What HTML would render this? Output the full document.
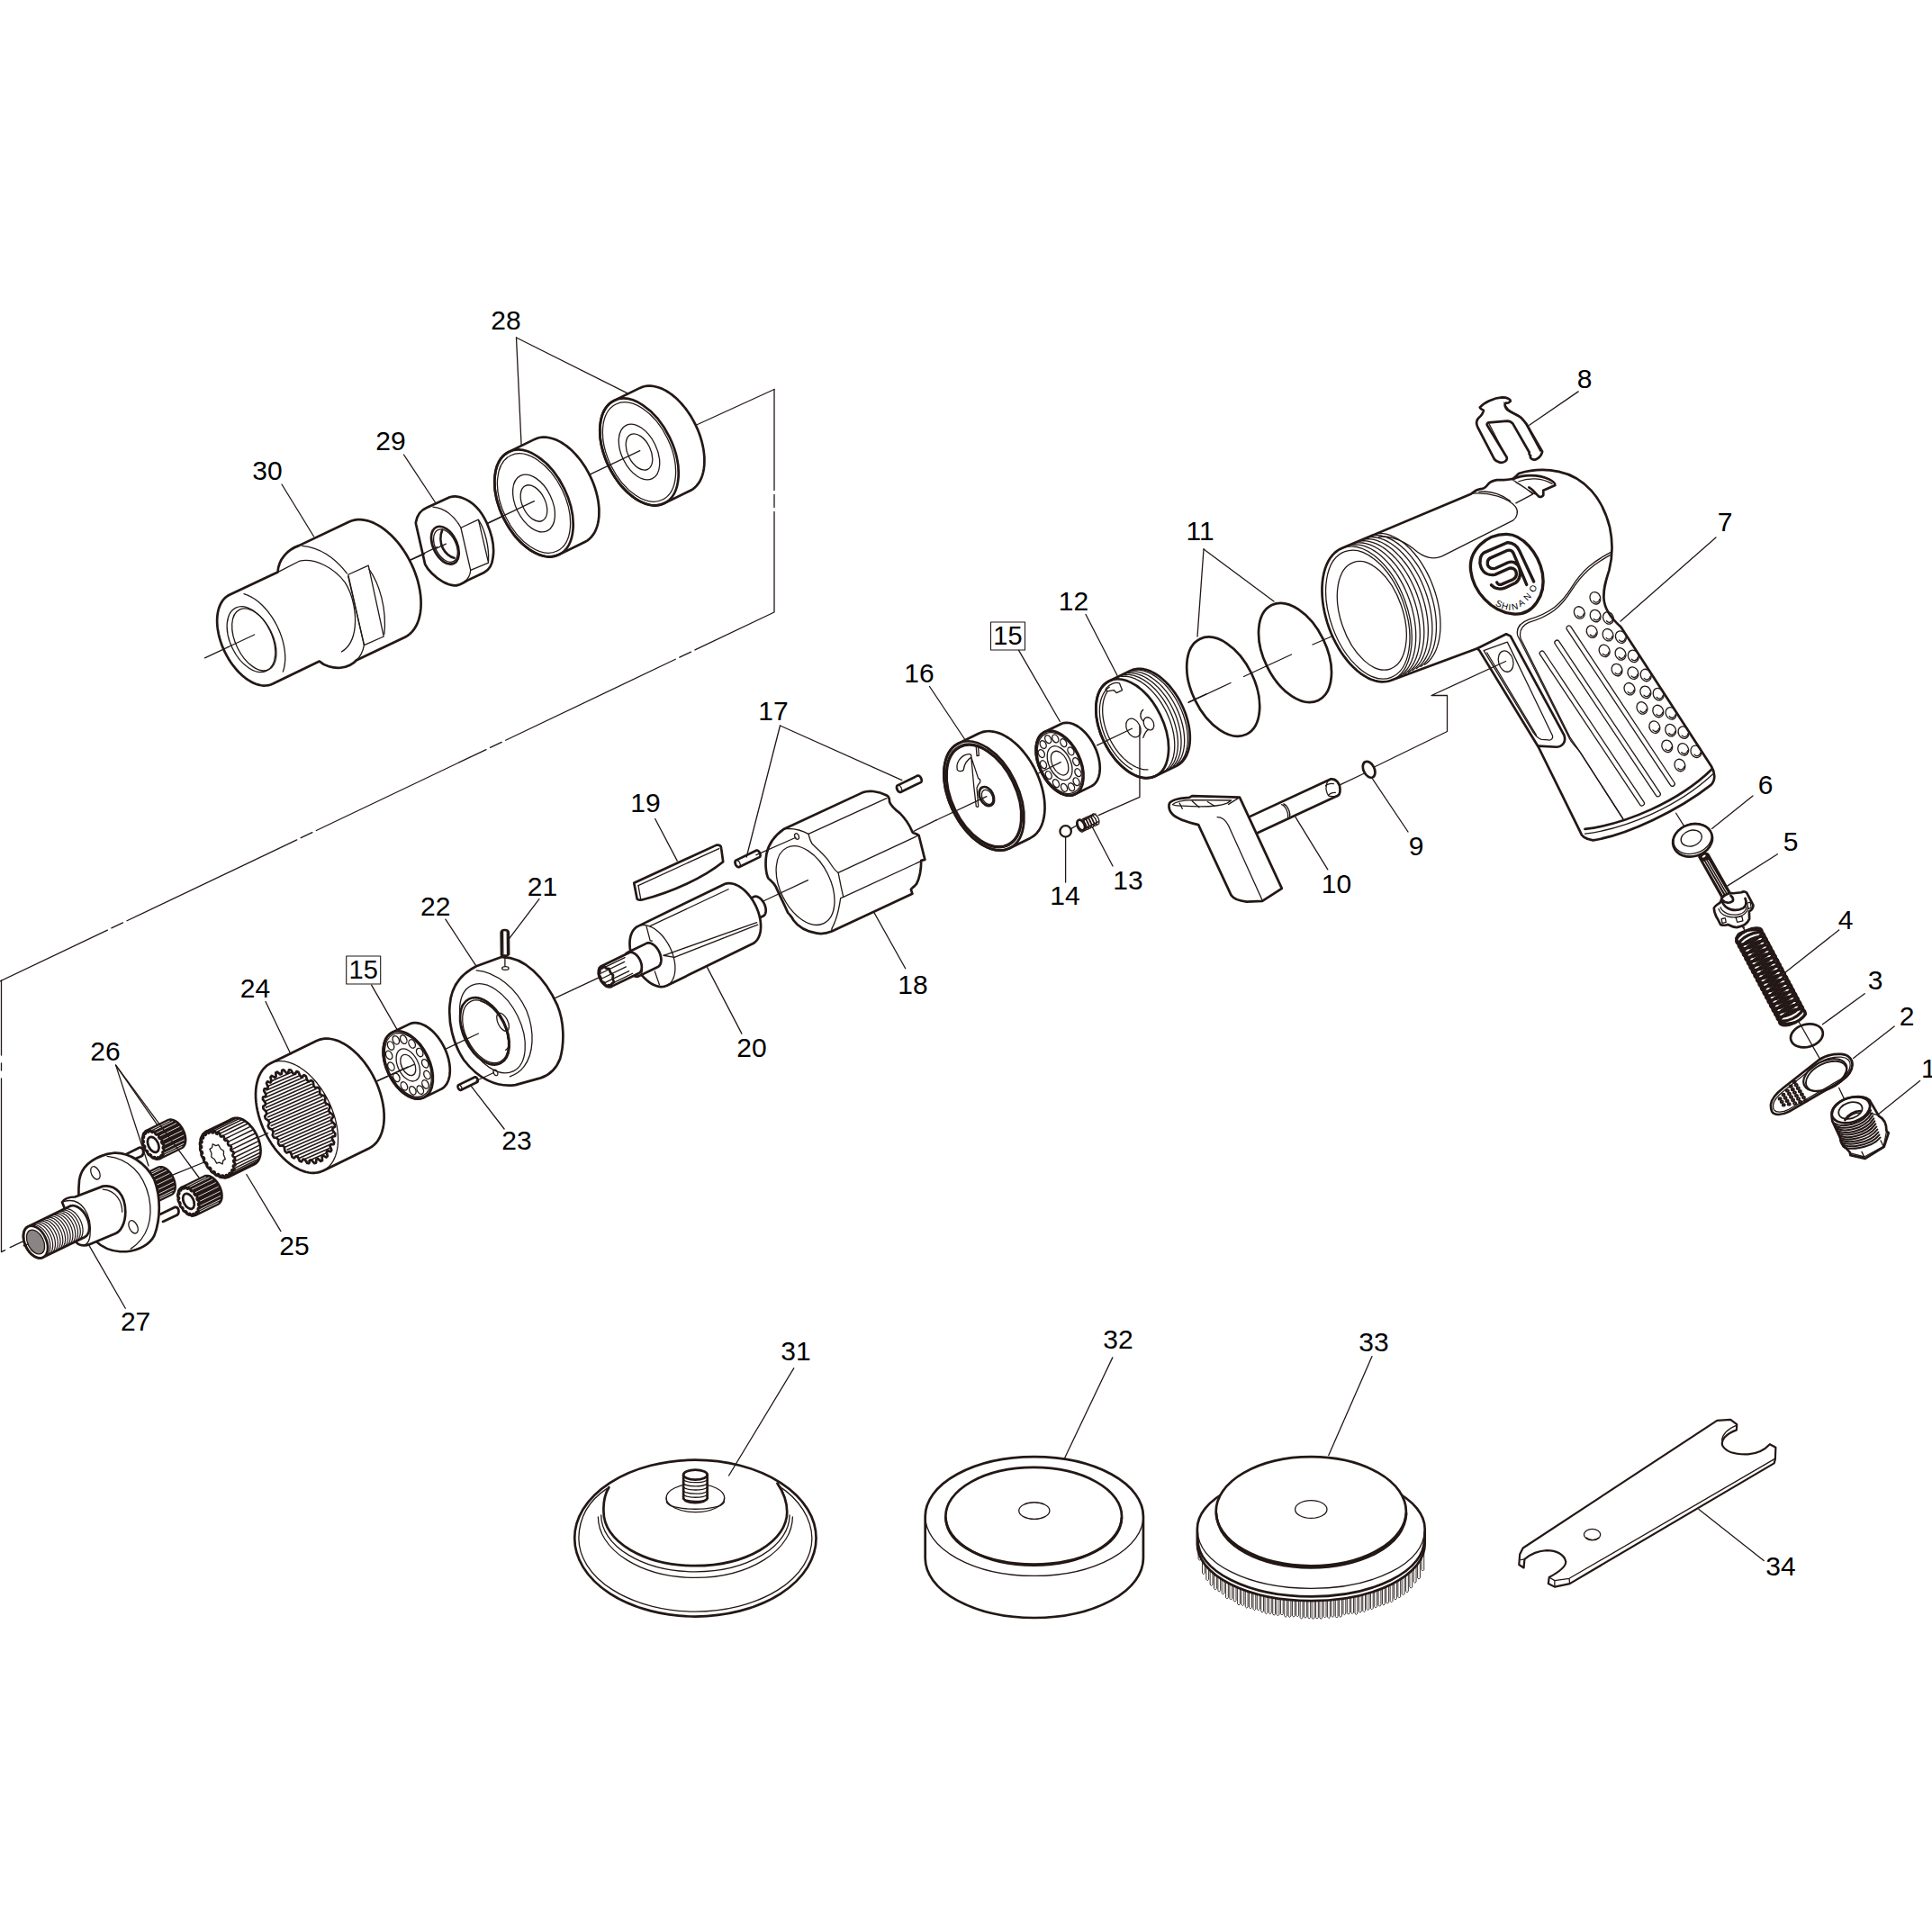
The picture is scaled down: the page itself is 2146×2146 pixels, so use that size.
<!DOCTYPE html>
<html><head><meta charset="utf-8"><style>
html,body{margin:0;padding:0;background:#fff;}
svg{display:block;}
svg text{font-family:"Liberation Sans",sans-serif;fill:#000;stroke:none;}
svg path,svg line,svg ellipse,svg rect,svg polyline,svg polygon,svg circle{vector-effect:non-scaling-stroke;}
</style></head><body>
<svg xmlns="http://www.w3.org/2000/svg" width="2146" height="2146" viewBox="0 0 2146 2146" stroke="#231815" stroke-linecap="round" stroke-linejoin="round">
<rect x="0" y="0" width="2146" height="2146" fill="#fff" stroke="none"/>
<g transform="translate(220 560) scale(0.136128)">
<path d="M 255.9,739.9 L 239.7,749.2 L 224.6,760.7 L 210.9,774.3 L 198.5,789.9 L 187.5,807.5 L 178.1,826.8 L 170.2,847.9 L 164.0,870.6 L 159.4,894.6 L 156.5,920.0 L 155.3,946.5 L 155.8,974.0 L 158.1,1002.2 L 162.0,1031.1 L 167.6,1060.4 L 174.8,1090.0 L 183.7,1119.7 L 194.0,1149.2 L 205.9,1178.5 L 219.1,1207.3 L 233.6,1235.5 L 249.4,1262.9 L 266.3,1289.2 L 284.3,1314.4 L 303.1,1338.3 L 322.8,1360.8 L 343.1,1381.7 L 364.0,1400.8 L 385.4,1418.2 L 407.0,1433.5 L 428.7,1446.9 L 450.5,1458.1 L 472.2,1467.1 L 493.7,1473.9 L 514.8,1478.4 L 535.3,1480.6 L 555.3,1480.4 L 574.5,1478.0 L 592.8,1473.2 L 610.1,1466.1 L 990,1282 C 1030,1320 1100,1340 1160,1335 C 1220,1330 1270,1300 1290,1275 L 1688.3,1085.1 L 1709.4,1073.0 L 1728.9,1058.1 L 1746.8,1040.5 L 1762.9,1020.2 L 1777.1,997.5 L 1789.4,972.3 L 1799.6,945.0 L 1807.7,915.7 L 1813.7,884.5 L 1817.5,851.6 L 1819.1,817.3 L 1818.4,781.7 L 1815.6,745.1 L 1810.5,707.7 L 1803.3,669.7 L 1794.0,631.4 L 1782.6,593.0 L 1769.2,554.7 L 1753.9,516.8 L 1736.7,479.5 L 1717.9,443.1 L 1697.4,407.7 L 1675.5,373.6 L 1652.3,340.9 L 1627.8,310.0 L 1602.4,280.9 L 1576.0,253.9 L 1548.9,229.1 L 1521.3,206.7 L 1493.3,186.8 L 1465.0,169.6 L 1436.8,155.1 L 1408.6,143.4 L 1380.8,134.7 L 1353.5,128.9 L 1326.8,126.1 L 1300.9,126.3 L 1276.0,129.5 L 1252.2,135.8 L 1229.7,144.9 L 826,337 C 730,370 655,450 650,555 Z" stroke-width="2.7" fill="#fff" />
<path d="M 650,555 L 830,463 C 960,440 1110,520 1200,640 C 1270,750 1290,900 1280,1000 C 1270,1100 1230,1170 1170,1205" stroke-width="1.3" fill="none" />
<path d="M 850,340 C 1000,355 1120,440 1215,565" stroke-width="1.3" fill="none" />
<path d="M 1225,575 L 1390,500 L 1515,1080 L 1355,1150 Z" stroke-width="1.3" fill="none" />
<path d="M 1225,590 L 1355,1150" stroke-width="1.3" fill="none" />
<path d="M 1395,530 C 1480,650 1540,850 1520,1060" stroke-width="1.3" fill="none" />
<path d="M 1355,1150 C 1345,1200 1320,1250 1290,1275" stroke-width="1.3" fill="none" />
<path d="M 374.7,732.7 L 389.3,737.3 L 404.1,742.9 L 418.9,749.6 L 433.8,757.2 L 448.7,765.9 L 463.5,775.5 L 478.3,786.1 L 492.9,797.5 L 507.4,809.9 L 521.6,823.1 L 535.6,837.1 L 549.3,851.9 L 562.6,867.4 L 575.6,883.5 L 588.2,900.3 L 600.3,917.7 L 611.9,935.6 L 623.0,954.0 L 633.6,972.8 L 643.6,992.0 L 653.0,1011.5 L 661.8,1031.3 L 669.9,1051.3 L 677.3,1071.4 L 684.1,1091.7 L 690.1,1111.9 L 695.3,1132.2 L 699.8,1152.3 L 703.6,1172.3 L 706.5,1192.1 L 708.7,1211.7 L 710.1,1230.9 L 710.7,1249.8 L 710.5,1268.2 L 709.5,1286.2 L 707.7,1303.6 L 705.1,1320.5 L 701.7,1336.8 L 697.6,1352.3 L 692.6,1367.2" stroke-width="1.3" fill="none" />
<ellipse cx="433.0" cy="1103.0" rx="169.0" ry="286.0" transform="rotate(-26 433.0 1103.0)" stroke-width="1.3" fill="none" />
<ellipse cx="458.0" cy="1105.0" rx="152.0" ry="272.0" transform="rotate(-26 458.0 1105.0)" stroke-width="1.3" fill="none" />
<path d="M 55,1255 L 460,1065" stroke-width="1.3" fill="none" />
</g>
<g transform="translate(420 520) scale(0.082816)">
<path d="M 505,730 C 520,640 570,565 650,532 L 960,390 C 1010,375 1070,378 1120,395 C 1250,440 1380,560 1460,740 C 1530,900 1560,1080 1540,1200 C 1530,1300 1480,1370 1420,1400 L 1200,1505 C 1130,1550 1080,1580 1020,1575 C 920,1565 800,1490 720,1410 C 680,1370 650,1330 630,1290 L 510,760 Z" stroke-width="2.7" fill="#fff" />
<path d="M 735,520 C 880,530 1020,630 1110,800 L 1240,1370 C 1235,1440 1200,1490 1160,1520" stroke-width="1.3" fill="none" />
<path d="M 1110,800 L 1345,690 L 1480,1270 L 1240,1370" stroke-width="1.3" fill="none" />
<path d="M 1350,700 C 1430,820 1490,1050 1480,1250" stroke-width="1.3" fill="none" />
<ellipse cx="898.0" cy="1035.0" rx="159.0" ry="270.0" transform="rotate(-26 898.0 1035.0)" stroke-width="2.7" fill="none" />
<ellipse cx="905.0" cy="1040.0" rx="138.0" ry="235.0" transform="rotate(-26 905.0 1040.0)" stroke-width="1.3" fill="none" />
<path d="M 860,830 C 830,900 830,1000 870,1080 C 910,1150 960,1190 1020,1205" stroke-width="2.7" fill="none" />
<path d="M 420,1240 L 625,1150" stroke-width="1.3" fill="none" />
<path d="M 760,1085 L 910,1015" stroke-width="1.3" fill="none" />
<path d="M 1460,745 L 1932,520" stroke-width="1.3" fill="none" />
</g>
<path d="M 565.2,501.9 L 562.6,503.4 L 560.2,505.2 L 558.1,507.3 L 556.1,509.8 L 554.4,512.6 L 552.9,515.6 L 551.7,518.9 L 550.7,522.5 L 550.0,526.3 L 549.5,530.3 L 549.3,534.4 L 549.4,538.7 L 549.7,543.2 L 550.4,547.7 L 551.2,552.3 L 552.4,557.0 L 553.8,561.6 L 555.4,566.3 L 557.2,570.9 L 559.3,575.4 L 561.6,579.9 L 564.1,584.1 L 566.8,588.3 L 569.6,592.3 L 572.5,596.0 L 575.6,599.5 L 578.8,602.8 L 582.1,605.8 L 585.5,608.6 L 588.9,611.0 L 592.3,613.1 L 595.7,614.8 L 599.1,616.2 L 602.5,617.3 L 605.8,618.0 L 609.1,618.4 L 612.2,618.3 L 615.2,617.9 L 618.1,617.2 L 620.8,616.1 L 649.6,602.0 L 652.2,600.6 L 654.5,598.8 L 656.7,596.6 L 658.6,594.2 L 660.4,591.4 L 661.9,588.4 L 663.1,585.1 L 664.1,581.5 L 664.8,577.7 L 665.3,573.7 L 665.4,569.5 L 665.4,565.2 L 665.0,560.8 L 664.4,556.2 L 663.5,551.6 L 662.4,547.0 L 661.0,542.3 L 659.4,537.7 L 657.5,533.1 L 655.4,528.5 L 653.1,524.1 L 650.7,519.8 L 648.0,515.7 L 645.2,511.7 L 642.2,508.0 L 639.1,504.4 L 635.9,501.1 L 632.6,498.1 L 629.3,495.4 L 625.9,493.0 L 622.5,490.9 L 619.0,489.1 L 615.6,487.7 L 612.2,486.7 L 608.9,486.0 L 605.7,485.6 L 602.6,485.6 L 599.5,486.0 L 596.7,486.8 L 593.9,487.9 Z" stroke-width="2.7" fill="#fff" />
<ellipse cx="593.0" cy="559.0" rx="37.5" ry="63.5" transform="rotate(-26 593.0 559.0)" stroke-width="2.7" fill="none" />
<ellipse cx="593.0" cy="559.0" rx="34.8" ry="59.0" transform="rotate(-26 593.0 559.0)" stroke-width="1.3" fill="none" />
<ellipse cx="593.0" cy="559.0" rx="20.1" ry="34.0" transform="rotate(-26 593.0 559.0)" stroke-width="1.3" fill="none" />
<ellipse cx="593.0" cy="559.0" rx="12.7" ry="21.6" transform="rotate(-26 593.0 559.0)" stroke-width="1.3" fill="none" />
<path d="M 682.2,444.9 L 679.6,446.4 L 677.2,448.2 L 675.1,450.3 L 673.1,452.8 L 671.4,455.6 L 669.9,458.6 L 668.7,461.9 L 667.7,465.5 L 667.0,469.3 L 666.5,473.3 L 666.3,477.4 L 666.4,481.7 L 666.7,486.2 L 667.4,490.7 L 668.2,495.3 L 669.4,500.0 L 670.8,504.6 L 672.4,509.3 L 674.2,513.9 L 676.3,518.4 L 678.6,522.9 L 681.1,527.1 L 683.8,531.3 L 686.6,535.3 L 689.5,539.0 L 692.6,542.5 L 695.8,545.8 L 699.1,548.8 L 702.5,551.6 L 705.9,554.0 L 709.3,556.1 L 712.7,557.8 L 716.1,559.2 L 719.5,560.3 L 722.8,561.0 L 726.1,561.4 L 729.2,561.3 L 732.2,560.9 L 735.1,560.2 L 737.8,559.1 L 766.6,545.0 L 769.2,543.6 L 771.5,541.8 L 773.7,539.6 L 775.6,537.2 L 777.4,534.4 L 778.9,531.4 L 780.1,528.1 L 781.1,524.5 L 781.8,520.7 L 782.3,516.7 L 782.4,512.5 L 782.4,508.2 L 782.0,503.8 L 781.4,499.2 L 780.5,494.6 L 779.4,490.0 L 778.0,485.3 L 776.4,480.7 L 774.5,476.1 L 772.4,471.5 L 770.1,467.1 L 767.7,462.8 L 765.0,458.7 L 762.2,454.7 L 759.2,451.0 L 756.1,447.4 L 752.9,444.1 L 749.6,441.1 L 746.3,438.4 L 742.9,436.0 L 739.5,433.9 L 736.0,432.1 L 732.6,430.7 L 729.2,429.7 L 725.9,429.0 L 722.7,428.6 L 719.6,428.6 L 716.5,429.0 L 713.7,429.8 L 710.9,430.9 Z" stroke-width="2.7" fill="#fff" />
<ellipse cx="710.0" cy="502.0" rx="37.5" ry="63.5" transform="rotate(-26 710.0 502.0)" stroke-width="2.7" fill="none" />
<ellipse cx="710.0" cy="502.0" rx="34.8" ry="59.0" transform="rotate(-26 710.0 502.0)" stroke-width="1.3" fill="none" />
<ellipse cx="710.0" cy="502.0" rx="19.5" ry="33.0" transform="rotate(-26 710.0 502.0)" stroke-width="1.3" fill="none" />
<ellipse cx="710.0" cy="502.0" rx="12.7" ry="21.5" transform="rotate(-26 710.0 502.0)" stroke-width="1.3" fill="none" />
<line x1="455.5" y1="622.0" x2="485.4" y2="607.6" stroke-width="1.3" />
<line x1="540.9" y1="581.7" x2="593.4" y2="556.6" stroke-width="1.3" />
<line x1="655.5" y1="526.8" x2="710.8" y2="500.7" stroke-width="1.3" />
<line x1="772.5" y1="472.5" x2="860.0" y2="432.5" stroke-width="1.3" />
<path d="M 860,432.5 L 860,680 L 0,1090" stroke-width="1.3" fill="none" stroke-dasharray="209 5 14 5" stroke-dashoffset="97"/>
<text x="562.0" y="366.0" font-size="30" text-anchor="middle" >28</text>
<line x1="573.5" y1="375.0" x2="579.1" y2="494.5" stroke-width="1.3" />
<line x1="573.5" y1="375.0" x2="697.1" y2="436.8" stroke-width="1.3" />
<text x="434.0" y="500.0" font-size="30" text-anchor="middle" >29</text>
<line x1="448.5" y1="505.0" x2="483.8" y2="558.5" stroke-width="1.3" />
<text x="297.0" y="533.0" font-size="30" text-anchor="middle" >30</text>
<line x1="313.0" y1="538.0" x2="348.6" y2="596.0" stroke-width="1.3" />
<g transform="translate(650 850) scale(0.207039)">
<path d="M 262,632 L 705,428 Q 728,425 730,445 L 740,518 C 640,600 470,680 305,722 Q 280,725 278,715 Z" stroke-width="2.7" fill="#fff" />
<path d="M 285,645 L 718,447" stroke-width="1.3" fill="none" />
<path d="M 285,645 L 298,718" stroke-width="1.3" fill="none" />
<path d="M 809.2,510.0 L 808.4,510.5 L 807.7,511.1 L 807.0,511.7 L 806.3,512.5 L 805.8,513.4 L 805.3,514.4 L 804.9,515.4 L 804.6,516.5 L 804.3,517.7 L 804.2,519.0 L 804.1,520.3 L 804.1,521.7 L 804.2,523.1 L 804.4,524.5 L 804.7,526.0 L 805.0,527.4 L 805.5,528.9 L 806.0,530.4 L 806.6,531.8 L 807.2,533.3 L 807.9,534.7 L 808.7,536.0 L 809.6,537.3 L 810.5,538.6 L 811.4,539.7 L 812.4,540.8 L 813.4,541.9 L 814.4,542.8 L 815.5,543.7 L 816.6,544.4 L 817.7,545.1 L 818.8,545.6 L 819.8,546.1 L 820.9,546.4 L 822.0,546.6 L 823.0,546.7 L 824.0,546.7 L 825.0,546.6 L 825.9,546.3 L 826.8,546.0 L 934.6,493.4 L 935.4,492.9 L 936.2,492.3 L 936.9,491.6 L 937.5,490.9 L 938.1,490.0 L 938.6,489.0 L 939.0,488.0 L 939.3,486.8 L 939.5,485.6 L 939.7,484.4 L 939.8,483.1 L 939.7,481.7 L 939.6,480.3 L 939.4,478.9 L 939.2,477.4 L 938.8,475.9 L 938.4,474.5 L 937.9,473.0 L 937.3,471.6 L 936.6,470.1 L 935.9,468.7 L 935.1,467.4 L 934.3,466.1 L 933.4,464.8 L 932.5,463.7 L 931.5,462.5 L 930.5,461.5 L 929.4,460.6 L 928.4,459.7 L 927.3,459.0 L 926.2,458.3 L 925.1,457.8 L 924.0,457.3 L 922.9,457.0 L 921.9,456.8 L 920.8,456.7 L 919.8,456.7 L 918.9,456.8 L 918.0,457.1 L 917.1,457.4 Z" stroke-width="2.7" fill="#fff" />
<ellipse cx="818.0" cy="528.0" rx="12.0" ry="20.0" transform="rotate(-26 818.0 528.0)" stroke-width="1.3" fill="none" />
<path d="M 1676.2,108.0 L 1675.4,108.5 L 1674.7,109.1 L 1674.0,109.7 L 1673.3,110.5 L 1672.8,111.4 L 1672.3,112.4 L 1671.9,113.4 L 1671.6,114.5 L 1671.3,115.7 L 1671.2,117.0 L 1671.1,118.3 L 1671.1,119.7 L 1671.2,121.1 L 1671.4,122.5 L 1671.7,124.0 L 1672.0,125.4 L 1672.5,126.9 L 1673.0,128.4 L 1673.6,129.8 L 1674.2,131.3 L 1674.9,132.7 L 1675.7,134.0 L 1676.6,135.3 L 1677.5,136.6 L 1678.4,137.7 L 1679.4,138.8 L 1680.4,139.9 L 1681.4,140.8 L 1682.5,141.7 L 1683.6,142.4 L 1684.7,143.1 L 1685.8,143.6 L 1686.8,144.1 L 1687.9,144.4 L 1689.0,144.6 L 1690.0,144.7 L 1691.0,144.7 L 1692.0,144.6 L 1692.9,144.3 L 1693.8,144.0 L 1799.8,92.2 L 1800.6,91.8 L 1801.4,91.2 L 1802.1,90.5 L 1802.7,89.7 L 1803.3,88.9 L 1803.8,87.9 L 1804.2,86.9 L 1804.5,85.7 L 1804.7,84.5 L 1804.9,83.3 L 1805.0,81.9 L 1804.9,80.6 L 1804.8,79.2 L 1804.6,77.7 L 1804.4,76.3 L 1804.0,74.8 L 1803.6,73.4 L 1803.1,71.9 L 1802.5,70.4 L 1801.8,69.0 L 1801.1,67.6 L 1800.3,66.3 L 1799.5,65.0 L 1798.6,63.7 L 1797.7,62.5 L 1796.7,61.4 L 1795.7,60.4 L 1794.6,59.5 L 1793.6,58.6 L 1792.5,57.8 L 1791.4,57.2 L 1790.3,56.6 L 1789.2,56.2 L 1788.1,55.9 L 1787.1,55.7 L 1786.1,55.6 L 1785.1,55.6 L 1784.1,55.7 L 1783.2,55.9 L 1782.3,56.3 Z" stroke-width="2.7" fill="#fff" />
<ellipse cx="1685.0" cy="126.0" rx="12.0" ry="20.0" transform="rotate(-26 1685.0 126.0)" stroke-width="1.3" fill="none" />
</g>
<g transform="translate(840 870) scale(0.103520)">
<path d="M 300,490 L 1140,100 C 1200,75 1300,80 1400,130 C 1420,140 1430,160 1430,200 C 1450,250 1500,290 1540,320 C 1600,380 1640,440 1670,510 L 1680,530 C 1700,540 1730,545 1745,560 L 1810,820 L 1770,830 C 1770,900 1760,1000 1720,1080 C 1700,1110 1670,1120 1660,1140 L 1675,1185 L 810,1590 C 760,1610 700,1620 650,1610 C 540,1590 450,1540 400,1470 C 380,1430 360,1410 340,1390 C 300,1300 250,1200 210,1110 C 190,1070 160,1050 130,1020 C 100,960 95,850 110,760 C 130,660 200,560 300,490 Z" stroke-width="2.7" fill="#fff" />
<path d="M 300,490 C 400,480 500,510 560,545 C 570,580 575,610 600,650 C 650,700 700,740 760,810 C 800,860 830,930 880,960 C 895,1030 910,1120 935,1220 L 905,1232 C 890,1330 870,1440 830,1520 C 815,1545 805,1570 810,1590" stroke-width="1.3" fill="none" />
<ellipse cx="527.0" cy="1097.0" rx="270.0" ry="452.0" transform="rotate(-26 527.0 1097.0)" stroke-width="1.3" fill="none" />
<ellipse cx="435" cy="570" rx="22" ry="33" transform="rotate(-20 435 570)" stroke-width="1.3" fill="none"/>
<path d="M 560,545 L 1400,160" stroke-width="1.3" fill="none" />
<path d="M 880,960 L 1730,565" stroke-width="1.3" fill="none" />
<path d="M 935,1220 L 1770,835" stroke-width="1.3" fill="none" />
<path d="M 65,1270 L 555,1040" stroke-width="1.3" fill="none" />
<path d="M 0,770 L 425,582" stroke-width="1.3" fill="none" />
<path d="M 1690,515 L 1932,395" stroke-width="1.3" fill="none" />
</g>
<g transform="translate(660 980) scale(0.103520)">
<path d="M 1649.6,186.6 L 1644.9,189.3 L 1640.6,192.6 L 1636.7,196.5 L 1633.2,200.9 L 1630.0,205.9 L 1627.3,211.4 L 1625.1,217.4 L 1623.3,223.9 L 1622.0,230.8 L 1621.1,238.0 L 1620.8,245.5 L 1620.9,253.4 L 1621.5,261.4 L 1622.7,269.6 L 1624.2,278.0 L 1626.3,286.4 L 1628.8,294.9 L 1631.7,303.3 L 1635.1,311.6 L 1638.9,319.8 L 1643.0,327.8 L 1647.5,335.6 L 1652.3,343.1 L 1657.5,350.3 L 1662.8,357.1 L 1668.4,363.5 L 1674.2,369.4 L 1680.2,374.9 L 1686.3,379.8 L 1692.4,384.2 L 1698.6,388.0 L 1704.9,391.1 L 1711.0,393.7 L 1717.2,395.6 L 1723.2,396.9 L 1729.1,397.5 L 1734.8,397.5 L 1740.2,396.8 L 1745.5,395.4 L 1750.4,393.4 L 1813.3,362.7 L 1818.0,360.0 L 1822.3,356.7 L 1826.2,352.9 L 1829.7,348.4 L 1832.9,343.4 L 1835.6,337.9 L 1837.8,331.9 L 1839.6,325.4 L 1840.9,318.6 L 1841.8,311.3 L 1842.1,303.8 L 1842.0,296.0 L 1841.4,287.9 L 1840.3,279.7 L 1838.7,271.3 L 1836.6,262.9 L 1834.1,254.5 L 1831.2,246.0 L 1827.8,237.7 L 1824.0,229.5 L 1819.9,221.5 L 1815.4,213.7 L 1810.6,206.2 L 1805.5,199.0 L 1800.1,192.2 L 1794.5,185.8 L 1788.7,179.9 L 1782.7,174.4 L 1776.6,169.5 L 1770.5,165.1 L 1764.3,161.4 L 1758.1,158.2 L 1751.9,155.6 L 1745.7,153.7 L 1739.7,152.4 L 1733.9,151.8 L 1728.2,151.8 L 1722.7,152.6 L 1717.5,153.9 L 1712.5,156.0 Z" stroke-width="2.7" fill="#fff" />
<path d="M 469.8,471.8 L 455.6,480.0 L 442.3,490.1 L 430.3,502.0 L 419.4,515.7 L 409.7,531.1 L 401.4,548.1 L 394.5,566.6 L 389.0,586.4 L 385.0,607.6 L 382.4,629.8 L 381.4,653.0 L 381.8,677.1 L 383.8,701.9 L 387.2,727.2 L 392.1,752.9 L 398.4,778.8 L 406.1,804.8 L 415.2,830.7 L 425.6,856.4 L 437.2,881.6 L 449.9,906.3 L 463.7,930.3 L 478.6,953.4 L 494.3,975.5 L 510.8,996.4 L 528.1,1016.1 L 545.9,1034.4 L 564.2,1051.1 L 582.9,1066.3 L 601.9,1079.8 L 621.0,1091.4 L 640.1,1101.3 L 659.2,1109.2 L 678.0,1115.1 L 696.5,1119.0 L 714.5,1120.9 L 732.0,1120.8 L 748.9,1118.6 L 765.0,1114.4 L 780.2,1108.2 L 1699.6,659.7 L 1713.9,651.6 L 1727.1,641.5 L 1739.2,629.5 L 1750.1,615.8 L 1759.7,600.4 L 1768.0,583.4 L 1774.9,565.0 L 1780.4,545.1 L 1784.5,524.0 L 1787.0,501.7 L 1788.1,478.5 L 1787.7,454.4 L 1785.7,429.7 L 1782.3,404.4 L 1777.4,378.7 L 1771.1,352.7 L 1763.4,326.7 L 1754.3,300.8 L 1743.9,275.2 L 1732.3,249.9 L 1719.6,225.2 L 1705.7,201.3 L 1690.9,178.2 L 1675.2,156.1 L 1658.6,135.1 L 1641.4,115.5 L 1623.5,97.2 L 1605.2,80.4 L 1586.5,65.2 L 1567.6,51.8 L 1548.5,40.1 L 1529.3,30.3 L 1510.3,22.4 L 1491.5,16.5 L 1473.0,12.5 L 1454.9,10.6 L 1437.4,10.8 L 1420.6,13.0 L 1404.5,17.2 L 1389.3,23.4 Z" stroke-width="2.7" fill="#fff" />
<path d="M 796.0,1099.0 L 808.4,1089.3 L 819.7,1078.0 L 830.1,1065.1 L 839.3,1050.7 L 847.3,1034.8 L 854.1,1017.6 L 859.6,999.2 L 863.8,979.6 L 866.7,959.0 L 868.3,937.4 L 868.6,915.0 L 867.5,892.0 L 865.1,868.3 L 861.4,844.3 L 856.3,819.9 L 850.0,795.4 L 842.5,770.9 L 833.7,746.4 L 823.8,722.2 L 812.8,698.4 L 800.8,675.1 L 787.8,652.4 L 774.0,630.4 L 759.3,609.4 L 743.8,589.3 L 727.7,570.3 L 711.1,552.6 L 694.0,536.1 L 676.4,521.1 L 658.7,507.5 L 640.7,495.5 L 622.6,485.1 L 604.6,476.4 L 586.6,469.4 L 568.9,464.1 L 551.5,460.7 L 534.5,459.0 L 518.0,459.2 L 502.0,461.2 L 486.8,465.1" stroke-width="1.3" fill="none" />
<path d="M 600,470 L 1440,75" stroke-width="1.3" fill="none" />
<path d="M 745,785 L 1745,432" stroke-width="1.3" fill="none" />
<path d="M 860,805 L 1755,455" stroke-width="1.3" fill="none" />
<path d="M 560,470 L 600,625 L 620,630" stroke-width="1.3" fill="none" />
<path d="M 745,785 L 860,805" stroke-width="1.3" fill="none" />
<path d="M 650,955 L 700,1100" stroke-width="1.3" fill="none" />
<path d="M 358.6,754.2 L 353.0,757.4 L 347.7,761.4 L 342.9,766.1 L 338.6,771.6 L 334.8,777.7 L 331.4,784.4 L 328.7,791.7 L 326.5,799.6 L 324.9,807.9 L 323.9,816.8 L 323.4,825.9 L 323.6,835.5 L 324.3,845.3 L 325.7,855.3 L 327.6,865.5 L 330.1,875.7 L 333.1,886.0 L 336.7,896.3 L 340.8,906.4 L 345.4,916.4 L 350.4,926.1 L 355.9,935.6 L 361.8,944.8 L 368.0,953.5 L 374.6,961.8 L 381.4,969.5 L 388.5,976.8 L 395.7,983.4 L 403.1,989.4 L 410.6,994.7 L 418.2,999.3 L 425.8,1003.2 L 433.3,1006.3 L 440.8,1008.6 L 448.2,1010.2 L 455.3,1010.9 L 462.3,1010.8 L 468.9,1010.0 L 475.3,1008.3 L 481.4,1005.8 L 683.6,907.2 L 689.3,904.0 L 694.5,900.0 L 699.3,895.2 L 703.6,889.8 L 707.5,883.7 L 710.8,877.0 L 713.5,869.6 L 715.7,861.8 L 717.3,853.4 L 718.4,844.6 L 718.8,835.4 L 718.7,825.9 L 717.9,816.1 L 716.6,806.1 L 714.6,795.9 L 712.1,785.6 L 709.1,775.4 L 705.5,765.1 L 701.4,755.0 L 696.8,745.0 L 691.8,735.2 L 686.3,725.7 L 680.4,716.6 L 674.2,707.9 L 667.7,699.6 L 660.8,691.8 L 653.8,684.6 L 646.5,678.0 L 639.1,672.0 L 631.6,666.7 L 624.0,662.1 L 616.4,658.2 L 608.9,655.1 L 601.4,652.7 L 594.1,651.2 L 586.9,650.5 L 580.0,650.5 L 573.3,651.4 L 566.9,653.1 L 560.9,655.5 Z" stroke-width="2.7" fill="#fff" />
<ellipse cx="420.0" cy="880.0" rx="83.0" ry="140.0" transform="rotate(-26 420.0 880.0)" stroke-width="1.3" fill="none" />
<path d="M 76.5,900.3 L 71.6,903.2 L 67.1,906.6 L 62.9,910.7 L 59.1,915.5 L 55.8,920.8 L 53.0,926.6 L 50.6,933.0 L 48.7,939.8 L 47.3,947.1 L 46.4,954.8 L 46.1,962.8 L 46.2,971.1 L 46.9,979.6 L 48.1,988.3 L 49.7,997.2 L 51.9,1006.1 L 54.6,1015.1 L 57.7,1024.0 L 61.3,1032.9 L 65.3,1041.6 L 69.7,1050.1 L 74.4,1058.3 L 79.6,1066.3 L 85.0,1073.9 L 90.7,1081.1 L 96.6,1087.9 L 102.8,1094.2 L 109.1,1100.0 L 115.5,1105.2 L 122.1,1109.9 L 128.6,1113.9 L 135.2,1117.3 L 141.8,1120.0 L 148.3,1122.0 L 154.6,1123.4 L 160.9,1124.0 L 166.9,1124.0 L 172.7,1123.2 L 178.2,1121.8 L 183.5,1119.7 L 480.1,975.0 L 485.0,972.2 L 489.5,968.7 L 493.7,964.6 L 497.5,959.9 L 500.8,954.6 L 503.6,948.7 L 506.0,942.3 L 507.9,935.5 L 509.3,928.2 L 510.2,920.6 L 510.5,912.6 L 510.4,904.3 L 509.7,895.7 L 508.5,887.0 L 506.9,878.1 L 504.7,869.2 L 502.0,860.2 L 498.9,851.3 L 495.3,842.5 L 491.3,833.8 L 486.9,825.3 L 482.2,817.0 L 477.0,809.0 L 471.6,801.4 L 465.9,794.2 L 460.0,787.4 L 453.8,781.1 L 447.5,775.4 L 441.1,770.1 L 434.5,765.5 L 428.0,761.5 L 421.4,758.1 L 414.8,755.4 L 408.3,753.3 L 402.0,752.0 L 395.7,751.3 L 389.7,751.3 L 383.9,752.1 L 378.4,753.5 L 373.1,755.7 Z" stroke-width="2.7" fill="#fff" />
<path d="M 183.5,1119.7 L 189.4,1085.6 L 212.6,1073.7 L 197.9,1032.5 L 203.0,998.0 L 174.6,968.9 L 159.3,927.8 L 130.5,924.5 L 101.9,896.2 L 86.1,920.1 L 57.6,917.8 L 62.3,957.8 L 47.2,982.5 L 70.1,1019.9 L 75.6,1060.1 L 106.0,1077.4 L 129.4,1114.3 L 153.1,1103.3 L 183.5,1119.7 Z" stroke-width="2.7" fill="#fff" />
<line x1="59.2" y1="938.7" x2="328.8" y2="807.2" stroke-width="1.3" />
<line x1="55.5" y1="985.3" x2="325.1" y2="853.7" stroke-width="1.3" />
<line x1="71.8" y1="1038.4" x2="341.4" y2="906.9" stroke-width="1.3" />
<line x1="103.6" y1="1083.9" x2="373.3" y2="952.4" stroke-width="1.3" />
<line x1="142.6" y1="1109.7" x2="412.2" y2="978.2" stroke-width="1.3" />
</g>
<g transform="translate(1040 720) scale(0.155280)">
<path d="M 158.2,681.2 L 141.4,690.8 L 125.9,702.7 L 111.6,716.7 L 98.8,732.9 L 87.5,751.0 L 77.7,771.0 L 69.6,792.8 L 63.1,816.2 L 58.4,841.0 L 55.4,867.2 L 54.1,894.6 L 54.7,923.0 L 56.9,952.1 L 61.0,981.9 L 66.7,1012.2 L 74.2,1042.8 L 83.3,1073.4 L 94.0,1103.9 L 106.2,1134.1 L 119.9,1163.9 L 134.9,1192.9 L 151.2,1221.2 L 168.7,1248.4 L 187.2,1274.4 L 206.7,1299.1 L 227.0,1322.3 L 248.0,1343.8 L 269.5,1363.6 L 291.6,1381.4 L 313.9,1397.3 L 336.4,1411.0 L 358.9,1422.6 L 381.3,1431.9 L 403.5,1438.9 L 425.3,1443.5 L 446.5,1445.8 L 467.1,1445.6 L 487.0,1443.1 L 505.9,1438.1 L 523.8,1430.8 L 672.1,1358.5 L 688.9,1348.8 L 704.4,1337.0 L 718.7,1322.9 L 731.5,1306.8 L 742.8,1288.7 L 752.6,1268.7 L 760.7,1246.9 L 767.2,1223.5 L 771.9,1198.6 L 774.9,1172.4 L 776.2,1145.1 L 775.6,1116.7 L 773.4,1087.5 L 769.3,1057.7 L 763.6,1027.5 L 756.1,996.9 L 747.0,966.3 L 736.3,935.8 L 724.1,905.6 L 710.4,875.8 L 695.4,846.7 L 679.1,818.5 L 661.6,791.3 L 643.1,765.3 L 623.6,740.6 L 603.3,717.4 L 582.3,695.9 L 560.8,676.1 L 538.7,658.2 L 516.4,642.4 L 493.9,628.6 L 471.4,617.1 L 449.0,607.7 L 426.8,600.8 L 405.0,596.1 L 383.8,593.9 L 363.2,594.0 L 343.3,596.6 L 324.4,601.6 L 306.5,608.9 Z" stroke-width="2.7" fill="#fff" />
<ellipse cx="341.0" cy="1056.0" rx="246.0" ry="417.0" transform="rotate(-26 341.0 1056.0)" stroke-width="2.7" fill="none" />
<ellipse cx="341.0" cy="1056.0" rx="235.0" ry="398.2" transform="rotate(-26 341.0 1056.0)" stroke-width="1.3" fill="none" />
<ellipse cx="341.0" cy="1056.0" rx="228.8" ry="387.8" transform="rotate(-26 341.0 1056.0)" stroke-width="2.7" fill="none" />
<path d="M 150,870 C 140,820 170,775 215,760 C 240,752 255,760 250,780 C 220,800 200,830 195,870 C 190,880 160,885 150,870 Z" stroke-width="1.3" fill="none" />
<path d="M 250,780 L 300,930 C 320,940 320,960 300,975 L 290,1000 L 300,1120 C 305,1135 295,1140 285,1130 L 270,1000 Z" stroke-width="1.3" fill="none" />
<path d="M 285,705 L 290,770 L 305,768 L 300,710" stroke-width="1.3" fill="none" />
<ellipse cx="360.0" cy="1060.0" rx="48.0" ry="72.0" transform="rotate(-26 360.0 1060.0)" stroke-width="2.7" fill="none" />
<ellipse cx="365.0" cy="1065.0" rx="36.0" ry="55.0" transform="rotate(-26 365.0 1065.0)" stroke-width="1.3" fill="none" />
<path d="M 774.3,599.1 L 764.3,604.8 L 755.0,611.9 L 746.6,620.2 L 739.0,629.8 L 732.2,640.6 L 726.4,652.5 L 721.6,665.5 L 717.7,679.4 L 714.9,694.2 L 713.1,709.7 L 712.4,726.0 L 712.7,742.9 L 714.1,760.2 L 716.5,778.0 L 719.9,796.0 L 724.3,814.1 L 729.7,832.3 L 736.1,850.5 L 743.4,868.5 L 751.5,886.1 L 760.4,903.4 L 770.1,920.2 L 780.5,936.4 L 791.5,951.9 L 803.1,966.6 L 815.2,980.3 L 827.7,993.2 L 840.5,1004.9 L 853.6,1015.5 L 866.9,1025.0 L 880.3,1033.2 L 893.7,1040.0 L 907.0,1045.6 L 920.2,1049.7 L 933.1,1052.5 L 945.8,1053.8 L 958.0,1053.7 L 969.8,1052.2 L 981.1,1049.2 L 991.7,1044.9 L 1108.6,987.9 L 1118.5,982.2 L 1127.8,975.1 L 1136.3,966.8 L 1143.9,957.2 L 1150.6,946.4 L 1156.4,934.5 L 1161.3,921.6 L 1165.1,907.6 L 1167.9,892.8 L 1169.7,877.3 L 1170.5,861.0 L 1170.1,844.1 L 1168.8,826.8 L 1166.4,809.1 L 1162.9,791.1 L 1158.5,772.9 L 1153.1,754.7 L 1146.7,736.5 L 1139.5,718.6 L 1131.4,700.9 L 1122.4,683.6 L 1112.7,666.8 L 1102.3,650.6 L 1091.3,635.1 L 1079.7,620.5 L 1067.7,606.7 L 1055.2,593.9 L 1042.3,582.1 L 1029.2,571.5 L 1016.0,562.0 L 1002.6,553.9 L 989.2,547.0 L 975.9,541.4 L 962.7,537.3 L 949.7,534.5 L 937.1,533.2 L 924.8,533.3 L 913.0,534.8 L 901.8,537.8 L 891.1,542.1 Z" stroke-width="2.7" fill="#fff" />
<ellipse cx="883.0" cy="822.0" rx="146.3" ry="248.0" transform="rotate(-26 883.0 822.0)" stroke-width="2.7" fill="none" />
<ellipse cx="883.0" cy="822.0" rx="137.5" ry="233.1" transform="rotate(-26 883.0 822.0)" stroke-width="1.3" fill="none" />
<ellipse cx="883.0" cy="822.0" rx="77.0" ry="130.0" transform="rotate(-26 883.0 822.0)" stroke-width="1.3" fill="none" />
<ellipse cx="883.0" cy="822.0" rx="54.0" ry="92.0" transform="rotate(-26 883.0 822.0)" stroke-width="1.3" fill="none" />
<ellipse cx="966.3" cy="992.8" rx="21.0" ry="30.0" transform="rotate(-26 966.3 992.8)" stroke-width="1.3" fill="none" />
<ellipse cx="1001.7" cy="954.6" rx="21.0" ry="30.0" transform="rotate(-26 1001.7 954.6)" stroke-width="1.3" fill="none" />
<ellipse cx="1013.6" cy="890.1" rx="21.0" ry="30.0" transform="rotate(-26 1013.6 890.1)" stroke-width="1.3" fill="none" />
<ellipse cx="999.7" cy="812.1" rx="21.0" ry="30.0" transform="rotate(-26 999.7 812.1)" stroke-width="1.3" fill="none" />
<ellipse cx="962.6" cy="736.1" rx="21.0" ry="30.0" transform="rotate(-26 962.6 736.1)" stroke-width="1.3" fill="none" />
<ellipse cx="909.8" cy="677.1" rx="21.0" ry="30.0" transform="rotate(-26 909.8 677.1)" stroke-width="1.3" fill="none" />
<ellipse cx="851.6" cy="646.8" rx="21.0" ry="30.0" transform="rotate(-26 851.6 646.8)" stroke-width="1.3" fill="none" />
<ellipse cx="799.7" cy="651.2" rx="21.0" ry="30.0" transform="rotate(-26 799.7 651.2)" stroke-width="1.3" fill="none" />
<ellipse cx="764.3" cy="689.4" rx="21.0" ry="30.0" transform="rotate(-26 764.3 689.4)" stroke-width="1.3" fill="none" />
<ellipse cx="752.4" cy="753.9" rx="21.0" ry="30.0" transform="rotate(-26 752.4 753.9)" stroke-width="1.3" fill="none" />
<ellipse cx="766.3" cy="831.9" rx="21.0" ry="30.0" transform="rotate(-26 766.3 831.9)" stroke-width="1.3" fill="none" />
<ellipse cx="803.4" cy="907.9" rx="21.0" ry="30.0" transform="rotate(-26 803.4 907.9)" stroke-width="1.3" fill="none" />
<ellipse cx="856.2" cy="966.9" rx="21.0" ry="30.0" transform="rotate(-26 856.2 966.9)" stroke-width="1.3" fill="none" />
<ellipse cx="914.4" cy="997.2" rx="21.0" ry="30.0" transform="rotate(-26 914.4 997.2)" stroke-width="1.3" fill="none" />
<path d="M 1236.3,235.3 L 1221.1,244.0 L 1207.0,254.7 L 1194.1,267.5 L 1182.5,282.1 L 1172.2,298.5 L 1163.4,316.7 L 1156.0,336.4 L 1150.1,357.6 L 1145.8,380.2 L 1143.1,403.9 L 1142.0,428.7 L 1142.4,454.4 L 1144.5,480.8 L 1148.2,507.9 L 1153.4,535.3 L 1160.2,563.0 L 1168.4,590.8 L 1178.1,618.4 L 1189.2,645.8 L 1201.6,672.8 L 1215.2,699.1 L 1229.9,724.7 L 1245.8,749.4 L 1262.6,773.0 L 1280.2,795.3 L 1298.6,816.4 L 1317.7,835.9 L 1337.2,853.8 L 1357.2,870.0 L 1377.4,884.4 L 1397.8,896.8 L 1418.2,907.3 L 1438.6,915.8 L 1458.6,922.1 L 1478.4,926.3 L 1497.7,928.3 L 1516.3,928.2 L 1534.3,925.9 L 1551.5,921.4 L 1567.7,914.7 L 1720.5,840.2 L 1735.7,831.5 L 1749.8,820.7 L 1762.7,808.0 L 1774.3,793.4 L 1784.6,776.9 L 1793.4,758.8 L 1800.8,739.1 L 1806.7,717.9 L 1811.0,695.3 L 1813.7,671.6 L 1814.8,646.8 L 1814.4,621.1 L 1812.3,594.6 L 1808.6,567.6 L 1803.4,540.2 L 1796.6,512.5 L 1788.4,484.7 L 1778.7,457.1 L 1767.6,429.7 L 1755.2,402.7 L 1741.6,376.4 L 1726.9,350.8 L 1711.0,326.1 L 1694.2,302.5 L 1676.6,280.1 L 1658.2,259.1 L 1639.1,239.6 L 1619.6,221.7 L 1599.6,205.5 L 1579.4,191.1 L 1559.0,178.6 L 1538.6,168.2 L 1518.2,159.7 L 1498.2,153.4 L 1478.4,149.2 L 1459.1,147.1 L 1440.5,147.3 L 1422.5,149.6 L 1405.3,154.1 L 1389.1,160.7 Z" stroke-width="2.7" fill="#fff" />
<path d="M 1648.9,866.0 L 1659.4,853.9 L 1668.9,840.5 L 1677.4,825.8 L 1684.9,809.7 L 1691.2,792.6 L 1696.3,774.3 L 1700.3,754.9 L 1703.2,734.7 L 1704.8,713.6 L 1705.2,691.8 L 1704.4,669.3 L 1702.4,646.3 L 1699.3,622.9 L 1694.9,599.2 L 1689.4,575.2 L 1682.8,551.2 L 1675.0,527.1 L 1666.2,503.2 L 1656.4,479.5 L 1645.6,456.2 L 1633.9,433.3 L 1621.2,411.0 L 1607.8,389.3 L 1593.6,368.4 L 1578.8,348.4 L 1563.3,329.3 L 1547.3,311.3 L 1530.8,294.3 L 1513.9,278.6 L 1496.6,264.2 L 1479.2,251.1 L 1461.6,239.4 L 1443.9,229.1 L 1426.2,220.4 L 1408.6,213.2 L 1391.2,207.6 L 1374.0,203.6 L 1357.1,201.2 L 1340.7,200.4 L 1324.7,201.3" stroke-width="1.3" fill="none" />
<path d="M 1672.3,854.6 L 1682.8,842.5 L 1692.3,829.1 L 1700.8,814.4 L 1708.2,798.3 L 1714.5,781.2 L 1719.7,762.9 L 1723.7,743.5 L 1726.5,723.3 L 1728.1,702.2 L 1728.6,680.4 L 1727.8,657.9 L 1725.8,634.9 L 1722.6,611.5 L 1718.3,587.8 L 1712.8,563.8 L 1706.1,539.8 L 1698.4,515.7 L 1689.6,491.8 L 1679.8,468.1 L 1669.0,444.8 L 1657.2,421.9 L 1644.6,399.6 L 1631.2,377.9 L 1617.0,357.0 L 1602.1,337.0 L 1586.7,317.9 L 1570.6,299.9 L 1554.1,282.9 L 1537.2,267.2 L 1520.0,252.8 L 1502.5,239.7 L 1484.9,228.0 L 1467.2,217.7 L 1449.6,209.0 L 1432.0,201.8 L 1414.5,196.2 L 1397.4,192.2 L 1380.5,189.8 L 1364.1,189.0 L 1348.1,189.9" stroke-width="1.3" fill="none" />
<path d="M 1695.6,843.2 L 1706.2,831.1 L 1715.7,817.7 L 1724.2,803.0 L 1731.6,787.0 L 1737.9,769.8 L 1743.1,751.5 L 1747.1,732.1 L 1749.9,711.9 L 1751.5,690.8 L 1751.9,669.0 L 1751.2,646.5 L 1749.2,623.5 L 1746.0,600.1 L 1741.7,576.4 L 1736.1,552.4 L 1729.5,528.4 L 1721.8,504.3 L 1713.0,480.4 L 1703.1,456.7 L 1692.3,433.4 L 1680.6,410.5 L 1668.0,388.2 L 1654.6,366.5 L 1640.4,345.6 L 1625.5,325.6 L 1610.0,306.5 L 1594.0,288.5 L 1577.5,271.5 L 1560.6,255.8 L 1543.4,241.4 L 1525.9,228.3 L 1508.3,216.6 L 1490.6,206.3 L 1472.9,197.6 L 1455.3,190.4 L 1437.9,184.8 L 1420.7,180.8 L 1403.9,178.4 L 1387.4,177.6 L 1371.5,178.5" stroke-width="1.3" fill="none" />
<path d="M 1719.0,831.8 L 1729.5,819.7 L 1739.1,806.3 L 1747.5,791.6 L 1755.0,775.6 L 1761.3,758.4 L 1766.4,740.1 L 1770.4,720.8 L 1773.3,700.5 L 1774.9,679.4 L 1775.3,657.6 L 1774.5,635.1 L 1772.5,612.1 L 1769.4,588.7 L 1765.0,565.0 L 1759.5,541.0 L 1752.9,517.0 L 1745.1,492.9 L 1736.3,469.0 L 1726.5,445.3 L 1715.7,422.0 L 1704.0,399.1 L 1691.4,376.8 L 1677.9,355.1 L 1663.8,334.2 L 1648.9,314.2 L 1633.4,295.1 L 1617.4,277.1 L 1600.9,260.1 L 1584.0,244.4 L 1566.7,230.0 L 1549.3,216.9 L 1531.7,205.2 L 1514.0,194.9 L 1496.3,186.2 L 1478.7,179.0 L 1461.3,173.4 L 1444.1,169.4 L 1427.2,167.0 L 1410.8,166.2 L 1394.8,167.1" stroke-width="1.3" fill="none" />
<path d="M 1742.4,820.4 L 1752.9,808.3 L 1762.4,794.9 L 1770.9,780.2 L 1778.3,764.2 L 1784.6,747.0 L 1789.8,728.7 L 1793.8,709.4 L 1796.6,689.1 L 1798.3,668.0 L 1798.7,646.2 L 1797.9,623.7 L 1795.9,600.7 L 1792.7,577.3 L 1788.4,553.6 L 1782.9,529.6 L 1776.2,505.6 L 1768.5,481.5 L 1759.7,457.6 L 1749.9,433.9 L 1739.1,410.6 L 1727.3,387.7 L 1714.7,365.4 L 1701.3,343.7 L 1687.1,322.8 L 1672.3,302.8 L 1656.8,283.7 L 1640.7,265.7 L 1624.2,248.7 L 1607.3,233.0 L 1590.1,218.6 L 1572.7,205.5 L 1555.0,193.8 L 1537.3,183.5 L 1519.7,174.8 L 1502.1,167.6 L 1484.6,162.0 L 1467.5,158.0 L 1450.6,155.6 L 1434.2,154.8 L 1418.2,155.7" stroke-width="1.3" fill="none" />
<ellipse cx="1402.0" cy="575.0" rx="223.0" ry="378.0" transform="rotate(-26 1402.0 575.0)" stroke-width="2.7" fill="none" />
<path d="M 1237.7,278.1 L 1228.2,285.3 L 1219.3,293.6 L 1211.0,302.8 L 1203.3,313.0 L 1196.4,324.0 L 1190.2,336.0 L 1184.7,348.8 L 1179.9,362.3 L 1176.0,376.6 L 1172.8,391.6 L 1170.4,407.2 L 1168.8,423.4 L 1168.0,440.2 L 1168.1,457.4 L 1168.9,475.0 L 1170.6,492.9 L 1173.0,511.2 L 1176.3,529.6 L 1180.3,548.3 L 1185.1,567.0 L 1190.7,585.7 L 1196.9,604.4 L 1203.9,623.0 L 1211.6,641.4 L 1220.0,659.6 L 1229.0,677.6 L 1238.5,695.1 L 1248.7,712.2 L 1259.4,728.9 L 1270.5,745.0 L 1282.2,760.6 L 1294.2,775.5 L 1306.6,789.7 L 1319.4,803.1 L 1332.4,815.8 L 1345.7,827.6 L 1359.2,838.6 L 1372.8,848.6 L 1386.5,857.7 L 1400.3,865.8" stroke-width="1.3" fill="none" />
<path d="M 1222.6,311.3 L 1215.4,323.4 L 1209.1,336.5 L 1203.6,350.4 L 1199.0,365.2 L 1195.2,380.8 L 1192.4,397.1 L 1190.4,414.0 L 1189.4,431.6 L 1189.3,449.6 L 1190.2,468.1 L 1191.9,487.0 L 1194.6,506.1 L 1198.1,525.5 L 1202.6,545.0 L 1207.9,564.5 L 1214.1,584.1 L 1221.1,603.5 L 1228.9,622.8 L 1237.4,641.8 L 1246.7,660.5 L 1256.7,678.8 L 1267.3,696.6 L 1278.6,713.9 L 1290.4,730.6 L 1302.7,746.5 L 1315.5,761.8 L 1328.7,776.2 L 1342.3,789.7 L 1356.2,802.4 L 1370.4,814.0 L 1384.7,824.7 L 1399.2,834.3 L 1413.8,842.8 L 1428.4,850.1 L 1442.9,856.3 L 1457.4,861.3 L 1471.7,865.1 L 1485.8,867.7 L 1499.7,869.1 L 1513.2,869.2" stroke-width="1.3" fill="none" />
<path d="M 1215,290 C 1230,260 1280,240 1310,250 L 1330,300 L 1290,320 L 1270,300 L 1240,305 C 1215,310 1205,300 1215,290 Z" stroke-width="1.3" fill="none" />
<ellipse cx="1410.0" cy="570.0" rx="48.0" ry="70.0" transform="rotate(-26 1410.0 570.0)" stroke-width="1.3" fill="none" />
<ellipse cx="1520.0" cy="540.0" rx="34.0" ry="48.0" transform="rotate(-26 1520.0 540.0)" stroke-width="1.3" fill="none" />
<path d="M 1480,440 C 1455,460 1455,500 1480,520" stroke-width="1.3" fill="none" />
<path d="M 1480,640 C 1490,610 1500,590 1520,580" stroke-width="1.3" fill="none" />
<path d="M 0,1230 L 360,1060" stroke-width="1.3" fill="none" />
<path d="M 730,895 L 890,815" stroke-width="1.3" fill="none" />
<path d="M 1150,695 L 1400,575" stroke-width="1.3" fill="none" />
<path d="M 1805,385 L 1932,328" stroke-width="1.3" fill="none" />
<path d="M 1455,560 L 1455,1065 L 1160,1195" stroke-width="1.3" fill="none" />
<ellipse cx="1030.0" cy="1275.0" rx="22.0" ry="42.0" transform="rotate(-26 1030.0 1275.0)" stroke-width="1.3" fill="none" />
<ellipse cx="1048.0" cy="1266.5" rx="22.0" ry="42.0" transform="rotate(-26 1048.0 1266.5)" stroke-width="1.3" fill="none" />
<ellipse cx="1066.0" cy="1258.0" rx="22.0" ry="42.0" transform="rotate(-26 1066.0 1258.0)" stroke-width="1.3" fill="none" />
<ellipse cx="1084.0" cy="1249.5" rx="22.0" ry="42.0" transform="rotate(-26 1084.0 1249.5)" stroke-width="1.3" fill="none" />
<ellipse cx="1102.0" cy="1241.0" rx="22.0" ry="42.0" transform="rotate(-26 1102.0 1241.0)" stroke-width="1.3" fill="none" />
<ellipse cx="1120.0" cy="1232.5" rx="22.0" ry="42.0" transform="rotate(-26 1120.0 1232.5)" stroke-width="1.3" fill="none" />
<ellipse cx="1138.0" cy="1224.0" rx="22.0" ry="42.0" transform="rotate(-26 1138.0 1224.0)" stroke-width="1.3" fill="none" />
<path d="M 1015,1250 L 1140,1185 M 1050,1295 L 1160,1240" stroke-width="1.3" fill="none" />
<ellipse cx="1035.0" cy="1265.0" rx="24.0" ry="40.0" transform="rotate(-26 1035.0 1265.0)" stroke-width="2.7" fill="#fff" />
<circle cx="925" cy="1310" r="40" fill="#fff" stroke-width="2.3"/>
<path d="M 965,1290 L 1015,1262" stroke-width="1.3" fill="none" />
</g>
<ellipse cx="1358.7" cy="762.7" rx="34.7" ry="58.9" transform="rotate(-26 1358.7 762.7)" stroke-width="2.7" fill="none" />
<ellipse cx="1438.5" cy="725.0" rx="34.7" ry="58.9" transform="rotate(-26 1438.5 725.0)" stroke-width="2.7" fill="none" />
<line x1="1320.0" y1="780.5" x2="1367.0" y2="758.5" stroke-width="1.3" />
<line x1="1381.5" y1="751.5" x2="1434.5" y2="727.0" stroke-width="1.3" />
<line x1="1458.0" y1="716.0" x2="1479.0" y2="707.0" stroke-width="1.3" />
<g transform="translate(1290 830) scale(0.155280)">
<path d="M 635,495 L 1210,228 C 1250,222 1278,260 1278,300 C 1280,330 1270,345 1255,350 L 690,612" stroke-width="2.7" fill="#fff" />
<path d="M 1210,228 C 1180,240 1165,300 1195,345 C 1200,352 1230,352 1255,350" stroke-width="1.3" fill="none" />
<path d="M 1175,275 C 1190,262 1220,258 1232,262 M 1195,345 C 1205,330 1230,322 1245,325" stroke-width="1.3" fill="none" />
<path d="M 860,410 C 890,420 910,470 905,500 M 875,405 C 905,420 925,470 918,495" stroke-width="1.3" fill="none" />
<path d="M 55,410 C 60,380 120,365 200,360 L 220,348 L 560,358 L 862,1010 L 722,1100 L 610,1105 C 560,1100 520,1090 500,1060 L 265,555 C 200,540 120,520 80,480 C 60,460 52,435 55,410 Z" stroke-width="2.7" fill="#fff" />
<path d="M 80,410 C 100,390 170,380 220,378 L 500,380 L 470,400 C 420,420 300,430 150,420 C 110,418 85,418 80,410 Z" stroke-width="1.3" fill="none" />
<path d="M 400,500 C 430,500 460,520 480,560 L 722,1095" stroke-width="1.3" fill="none" />
<path d="M 560,358 L 480,408" stroke-width="1.3" fill="none" />
<path d="M 130,400 L 150,440 M 220,385 L 270,430 M 330,390 L 380,420" stroke-width="1.3" fill="none" />
<path d="M 1280,268 L 1445,190" stroke-width="1.3" fill="none" />
</g>
<ellipse cx="1520.6" cy="854.8" rx="6.0" ry="9.5" transform="rotate(-26 1520.6 854.8)" stroke-width="2.7" fill="none" />
<text x="859.0" y="800.0" font-size="30" text-anchor="middle" >17</text>
<line x1="866.5" y1="806.0" x2="829.2" y2="952.0" stroke-width="1.3" />
<line x1="866.5" y1="806.0" x2="1001.9" y2="866.6" stroke-width="1.3" />
<text x="717.0" y="902.0" font-size="30" text-anchor="middle" >19</text>
<line x1="727.7" y1="909.5" x2="752.2" y2="956.1" stroke-width="1.3" />
<text x="1014.0" y="1104.0" font-size="30" text-anchor="middle" >18</text>
<line x1="970.9" y1="1013.6" x2="1005.7" y2="1075.7" stroke-width="1.3" />
<text x="835.0" y="1174.0" font-size="30" text-anchor="middle" >20</text>
<line x1="785.6" y1="1074.6" x2="823.9" y2="1148.1" stroke-width="1.3" />
<text x="1021.0" y="757.5" font-size="30" text-anchor="middle" >16</text>
<line x1="1032.5" y1="762.5" x2="1072.5" y2="822.5" stroke-width="1.3" />
<text x="1119.5" y="716.0" font-size="29" text-anchor="middle" >15</text>
<rect x="1100.5" y="691.0" width="38" height="31" fill="none" stroke-width="1.1"/>
<line x1="1131.6" y1="722.3" x2="1177.4" y2="801.5" stroke-width="1.3" />
<text x="1192.5" y="677.5" font-size="30" text-anchor="middle" >12</text>
<line x1="1206.0" y1="682.5" x2="1241.0" y2="750.3" stroke-width="1.3" />
<text x="1333.0" y="600.0" font-size="30" text-anchor="middle" >11</text>
<line x1="1337.0" y1="610.0" x2="1330.0" y2="707.0" stroke-width="1.3" />
<line x1="1337.0" y1="610.0" x2="1415.0" y2="668.0" stroke-width="1.3" />
<text x="1253.0" y="988.0" font-size="30" text-anchor="middle" >13</text>
<line x1="1213.5" y1="919.0" x2="1236.0" y2="962.0" stroke-width="1.3" />
<text x="1183.0" y="1005.0" font-size="30" text-anchor="middle" >14</text>
<line x1="1183.6" y1="929.6" x2="1183.6" y2="980.0" stroke-width="1.3" />
<text x="1484.5" y="992.0" font-size="30" text-anchor="middle" >10</text>
<line x1="1439.0" y1="907.6" x2="1474.8" y2="965.9" stroke-width="1.3" />
<text x="1573.0" y="949.6" font-size="30" text-anchor="middle" >9</text>
<line x1="1524.5" y1="865.0" x2="1564.0" y2="924.0" stroke-width="1.3" />
<g transform="translate(1460 500) scale(0.238095)">
<path d="M 132.5,455.8 L 119.0,461.8 L 106.2,469.7 L 94.3,479.4 L 83.4,490.8 L 73.4,504.0 L 64.5,518.7 L 56.8,535.0 L 50.1,552.7 L 44.7,571.7 L 40.5,591.9 L 37.6,613.1 L 35.9,635.3 L 35.6,658.3 L 36.5,681.9 L 38.7,706.1 L 42.2,730.6 L 47.0,755.4 L 52.9,780.1 L 60.1,804.8 L 68.3,829.3 L 77.7,853.4 L 88.1,876.9 L 99.5,899.7 L 111.8,921.7 L 124.8,942.7 L 138.7,962.6 L 153.2,981.4 L 168.2,998.7 L 183.7,1014.7 L 199.6,1029.1 L 215.8,1041.8 L 232.2,1052.9 L 248.6,1062.2 L 265.1,1069.7 L 281.4,1075.2 L 297.4,1078.9 L 313.2,1080.6 L 328.5,1080.4 L 343.3,1078.3 L 357.5,1074.2 L 760,925 L 770,935 L 1045,1385 L 1240,1780 C 1245,1800 1265,1815 1300,1820 C 1460,1795 1700,1680 1850,1562 C 1872,1540 1870,1505 1852,1475 L 1430,825 C 1390,790 1352,740 1350,690 C 1348,640 1360,610 1375,560 C 1388,510 1395,440 1378,360 C 1345,225 1260,125 1140,100 C 1080,88 1010,92 956,108 C 945,115 938,126 928,132 C 905,140 875,139 852,139 C 830,142 815,152 808,162 C 798,176 788,182 775,181 C 760,183 745,192 730,205 L 132.5,455.8 Z" stroke-width="2.7" fill="#fff" />
<path d="M 400.1,1053.4 L 411.1,1045.0 L 421.4,1035.2 L 430.9,1023.9 L 439.5,1011.2 L 447.3,997.2 L 454.0,982.0 L 459.9,965.7 L 464.7,948.2 L 468.5,929.8 L 471.2,910.5 L 472.9,890.4 L 473.5,869.6 L 473.1,848.3 L 471.5,826.5 L 468.9,804.3 L 465.3,781.8 L 460.6,759.3 L 455.0,736.7 L 448.3,714.2 L 440.7,691.9 L 432.2,670.0 L 422.9,648.5 L 412.7,627.5 L 401.8,607.2 L 390.1,587.7 L 377.9,569.1 L 365.0,551.4 L 351.6,534.7 L 337.8,519.2 L 323.6,504.9 L 309.1,491.8 L 294.3,480.2 L 279.4,469.9 L 264.5,461.1 L 249.5,453.8 L 234.6,448.1 L 219.8,444.0 L 205.3,441.4 L 191.1,440.5 L 177.2,441.1" stroke-width="1.3" fill="none" />
<path d="M 419.2,1044.6 L 430.2,1036.3 L 440.5,1026.4 L 450.0,1015.1 L 458.6,1002.4 L 466.3,988.5 L 473.1,973.3 L 478.9,956.9 L 483.8,939.5 L 487.5,921.0 L 490.3,901.7 L 492.0,881.6 L 492.6,860.9 L 492.1,839.5 L 490.6,817.7 L 488.0,795.5 L 484.4,773.0 L 479.7,750.5 L 474.0,727.9 L 467.4,705.4 L 459.8,683.1 L 451.3,661.2 L 441.9,639.7 L 431.8,618.8 L 420.8,598.5 L 409.2,578.9 L 396.9,560.3 L 384.1,542.6 L 370.7,525.9 L 356.8,510.4 L 342.6,496.1 L 328.1,483.1 L 313.4,471.4 L 298.5,461.1 L 283.5,452.3 L 268.5,445.1 L 253.6,439.3 L 238.9,435.2 L 224.4,432.6 L 210.1,431.7 L 196.3,432.3" stroke-width="1.3" fill="none" />
<path d="M 438.2,1035.9 L 449.3,1027.5 L 459.5,1017.6 L 469.0,1006.3 L 477.7,993.6 L 485.4,979.7 L 492.2,964.5 L 498.0,948.1 L 502.8,930.7 L 506.6,912.3 L 509.4,893.0 L 511.0,872.9 L 511.7,852.1 L 511.2,830.7 L 509.7,808.9 L 507.1,786.7 L 503.4,764.3 L 498.8,741.7 L 493.1,719.1 L 486.5,696.6 L 478.9,674.4 L 470.4,652.4 L 461.0,630.9 L 450.8,610.0 L 439.9,589.7 L 428.3,570.2 L 416.0,551.5 L 403.1,533.8 L 389.7,517.1 L 375.9,501.6 L 361.7,487.3 L 347.2,474.3 L 332.5,462.6 L 317.6,452.4 L 302.6,443.6 L 287.6,436.3 L 272.7,430.6 L 258.0,426.4 L 243.4,423.8 L 229.2,422.9 L 215.4,423.6" stroke-width="1.3" fill="none" />
<path d="M 457.3,1027.1 L 468.3,1018.7 L 478.6,1008.8 L 488.1,997.5 L 496.7,984.9 L 504.5,970.9 L 511.2,955.7 L 517.1,939.3 L 521.9,921.9 L 525.7,903.5 L 528.4,884.2 L 530.1,864.1 L 530.7,843.3 L 530.3,822.0 L 528.7,800.1 L 526.2,777.9 L 522.5,755.5 L 517.9,732.9 L 512.2,710.3 L 505.5,687.9 L 497.9,665.6 L 489.4,643.6 L 480.1,622.2 L 469.9,601.2 L 459.0,580.9 L 447.3,561.4 L 435.1,542.7 L 422.2,525.0 L 408.8,508.4 L 395.0,492.8 L 380.8,478.5 L 366.3,465.5 L 351.5,453.8 L 336.6,443.6 L 321.7,434.8 L 306.7,427.5 L 291.8,421.8 L 277.0,417.6 L 262.5,415.1 L 248.3,414.1 L 234.4,414.8" stroke-width="1.3" fill="none" />
<path d="M 476.4,1018.3 L 487.4,1009.9 L 497.7,1000.1 L 507.2,988.8 L 515.8,976.1 L 523.5,962.1 L 530.3,946.9 L 536.1,930.6 L 541.0,913.1 L 544.7,894.7 L 547.5,875.4 L 549.2,855.3 L 549.8,834.5 L 549.3,813.2 L 547.8,791.3 L 545.2,769.2 L 541.6,746.7 L 536.9,724.1 L 531.2,701.6 L 524.6,679.1 L 517.0,656.8 L 508.5,634.9 L 499.1,613.4 L 489.0,592.4 L 478.0,572.1 L 466.4,552.6 L 454.1,533.9 L 441.3,516.2 L 427.9,499.6 L 414.1,484.1 L 399.8,469.8 L 385.3,456.7 L 370.6,445.1 L 355.7,434.8 L 340.7,426.0 L 325.7,418.7 L 310.8,413.0 L 296.1,408.8 L 281.6,406.3 L 267.3,405.3 L 253.5,406.0" stroke-width="1.3" fill="none" />
<path d="M 495.4,1009.5 L 506.5,1001.1 L 516.8,991.3 L 526.2,980.0 L 534.9,967.3 L 542.6,953.3 L 549.4,938.1 L 555.2,921.8 L 560.0,904.3 L 563.8,885.9 L 566.6,866.6 L 568.2,846.5 L 568.9,825.8 L 568.4,804.4 L 566.9,782.6 L 564.3,760.4 L 560.7,737.9 L 556.0,715.4 L 550.3,692.8 L 543.7,670.3 L 536.1,648.0 L 527.6,626.1 L 518.2,604.6 L 508.0,583.6 L 497.1,563.4 L 485.5,543.8 L 473.2,525.2 L 460.3,507.5 L 446.9,490.8 L 433.1,475.3 L 418.9,461.0 L 404.4,448.0 L 389.7,436.3 L 374.8,426.0 L 359.8,417.2 L 344.8,410.0 L 329.9,404.2 L 315.2,400.1 L 300.6,397.5 L 286.4,396.6 L 272.6,397.2" stroke-width="1.3" fill="none" />
<path d="M 514.5,1000.8 L 525.5,992.4 L 535.8,982.5 L 545.3,971.2 L 553.9,958.5 L 561.7,944.6 L 568.5,929.4 L 574.3,913.0 L 579.1,895.6 L 582.9,877.2 L 585.6,857.9 L 587.3,837.8 L 587.9,817.0 L 587.5,795.6 L 585.9,773.8 L 583.4,751.6 L 579.7,729.2 L 575.1,706.6 L 569.4,684.0 L 562.7,661.5 L 555.1,639.3 L 546.6,617.3 L 537.3,595.8 L 527.1,574.9 L 516.2,554.6 L 504.5,535.1 L 492.3,516.4 L 479.4,498.7 L 466.0,482.0 L 452.2,466.5 L 438.0,452.2 L 423.5,439.2 L 408.7,427.5 L 393.8,417.3 L 378.9,408.5 L 363.9,401.2 L 349.0,395.4 L 334.2,391.3 L 319.7,388.7 L 305.5,387.8 L 291.6,388.5" stroke-width="1.3" fill="none" />
<ellipse cx="245.0" cy="765.0" rx="188.0" ry="329.0" transform="rotate(-20 245.0 765.0)" stroke-width="1.3" fill="none"/>
<ellipse cx="249.0" cy="767.0" rx="174.8" ry="312.6" transform="rotate(-20 249.0 767.0)" stroke-width="1.3" fill="none"/>
<ellipse cx="268.0" cy="772.0" rx="145.0" ry="263.0" transform="rotate(-19 268.0 772.0)" stroke-width="1.3" fill="none"/>
<path d="M 300,405 C 360,395 430,430 480,475 C 520,505 555,512 595,495 L 928,327 C 946,313 953,285 939,265 C 904,223 817,195 733,202" stroke-width="1.3" fill="none" />
<path d="M 768,195 C 817,188 869,205 914,237" stroke-width="1.3" fill="none" />
<path d="M 925,136 C 973,112 1043,112 1095,136 C 1115,146 1125,157 1123,164 L 1068,188 L 1068,210 C 1065,217 1055,220 1047,216 C 1035,205 1020,185 1001,174" stroke-width="2.7" fill="none" />
<path d="M 953,146 C 1000,128 1060,128 1109,157" stroke-width="1.3" fill="none" />
<path d="M 930,142 C 960,160 990,180 1019,205 L 940,247 M 940,150 C 975,170 1000,190 1030,205" stroke-width="1.3" fill="none" />
<path d="M 1385.0,475 C 1300,520 1250,560 1200,640 C 1150,720 1100,760 1000,790 C 960.0,805 940,830 948,865 L 1185.0,1335.0 C 1195,1365 1220,1380 1240,1410 L 1440,1720" stroke-width="1.3" fill="none" />
<path d="M 1380.8,489 C 1300,534 1250,574 1200,654 C 1150,734 1100,774 1000,804 C 967.0,819 954,844 962,879 L 1192.0,1339.2 C 1209,1365 1220,1380 1240,1410 L 1440,1720" stroke-width="1.3" fill="none" />
<path d="M 1262,1768 C 1450,1745 1700,1640 1855,1488" stroke-width="2.7" fill="none" />
<path d="M 1262,1790 C 1460,1765 1700,1660 1858,1512" stroke-width="1.3" fill="none" />
<path d="M 1052.8,954.1 L 1518.8,1654.1 A 11 11 0 0 0 1537.2,1641.9 L 1071.2,941.9 A 11 11 0 0 0 1052.8,954.1 Z" stroke-width="1.3" fill="none" />
<path d="M 1122.8,904.1 L 1593.8,1611.1 A 11 11 0 0 0 1612.2,1598.9 L 1141.2,891.9 A 11 11 0 0 0 1122.8,904.1 Z" stroke-width="1.3" fill="none" />
<path d="M 1177.8,836.1 L 1660.8,1563.1 A 11 11 0 0 0 1679.2,1550.9 L 1196.2,823.9 A 11 11 0 0 0 1177.8,836.1 Z" stroke-width="1.3" fill="none" />
<ellipse cx="1310" cy="690" rx="24" ry="29" transform="rotate(-25 1310 690)" stroke-width="1.3" fill="none"/>
<path d="M 1302,704 C 1312,716 1328,710 1331,695" stroke-width="1.3" fill="none"/>
<ellipse cx="1236.0" cy="758" rx="24" ry="29" transform="rotate(-25 1236.0 758)" stroke-width="1.3" fill="none"/>
<path d="M 1228.0,772 C 1238.0,784 1254.0,778 1257.0,763" stroke-width="1.3" fill="none"/>
<ellipse cx="1311.0" cy="773" rx="24" ry="29" transform="rotate(-25 1311.0 773)" stroke-width="1.3" fill="none"/>
<path d="M 1303.0,787 C 1313.0,799 1329.0,793 1332.0,778" stroke-width="1.3" fill="none"/>
<ellipse cx="1371.0" cy="783" rx="24" ry="29" transform="rotate(-25 1371.0 783)" stroke-width="1.3" fill="none"/>
<path d="M 1363.0,797 C 1373.0,809 1389.0,803 1392.0,788" stroke-width="1.3" fill="none"/>
<ellipse cx="1294.5" cy="847" rx="24" ry="29" transform="rotate(-25 1294.5 847)" stroke-width="1.3" fill="none"/>
<path d="M 1286.5,861 C 1296.5,873 1312.5,867 1315.5,852" stroke-width="1.3" fill="none"/>
<ellipse cx="1369.5" cy="862" rx="24" ry="29" transform="rotate(-25 1369.5 862)" stroke-width="1.3" fill="none"/>
<path d="M 1361.5,876 C 1371.5,888 1387.5,882 1390.5,867" stroke-width="1.3" fill="none"/>
<ellipse cx="1429.5" cy="872" rx="24" ry="29" transform="rotate(-25 1429.5 872)" stroke-width="1.3" fill="none"/>
<path d="M 1421.5,886 C 1431.5,898 1447.5,892 1450.5,877" stroke-width="1.3" fill="none"/>
<ellipse cx="1353.0" cy="936" rx="24" ry="29" transform="rotate(-25 1353.0 936)" stroke-width="1.3" fill="none"/>
<path d="M 1345.0,950 C 1355.0,962 1371.0,956 1374.0,941" stroke-width="1.3" fill="none"/>
<ellipse cx="1428.0" cy="951" rx="24" ry="29" transform="rotate(-25 1428.0 951)" stroke-width="1.3" fill="none"/>
<path d="M 1420.0,965 C 1430.0,977 1446.0,971 1449.0,956" stroke-width="1.3" fill="none"/>
<ellipse cx="1488.0" cy="961" rx="24" ry="29" transform="rotate(-25 1488.0 961)" stroke-width="1.3" fill="none"/>
<path d="M 1480.0,975 C 1490.0,987 1506.0,981 1509.0,966" stroke-width="1.3" fill="none"/>
<ellipse cx="1411.5" cy="1025" rx="24" ry="29" transform="rotate(-25 1411.5 1025)" stroke-width="1.3" fill="none"/>
<path d="M 1403.5,1039 C 1413.5,1051 1429.5,1045 1432.5,1030" stroke-width="1.3" fill="none"/>
<ellipse cx="1486.5" cy="1040" rx="24" ry="29" transform="rotate(-25 1486.5 1040)" stroke-width="1.3" fill="none"/>
<path d="M 1478.5,1054 C 1488.5,1066 1504.5,1060 1507.5,1045" stroke-width="1.3" fill="none"/>
<ellipse cx="1546.5" cy="1050" rx="24" ry="29" transform="rotate(-25 1546.5 1050)" stroke-width="1.3" fill="none"/>
<path d="M 1538.5,1064 C 1548.5,1076 1564.5,1070 1567.5,1055" stroke-width="1.3" fill="none"/>
<ellipse cx="1470.0" cy="1114" rx="24" ry="29" transform="rotate(-25 1470.0 1114)" stroke-width="1.3" fill="none"/>
<path d="M 1462.0,1128 C 1472.0,1140 1488.0,1134 1491.0,1119" stroke-width="1.3" fill="none"/>
<ellipse cx="1545.0" cy="1129" rx="24" ry="29" transform="rotate(-25 1545.0 1129)" stroke-width="1.3" fill="none"/>
<path d="M 1537.0,1143 C 1547.0,1155 1563.0,1149 1566.0,1134" stroke-width="1.3" fill="none"/>
<ellipse cx="1605.0" cy="1139" rx="24" ry="29" transform="rotate(-25 1605.0 1139)" stroke-width="1.3" fill="none"/>
<path d="M 1597.0,1153 C 1607.0,1165 1623.0,1159 1626.0,1144" stroke-width="1.3" fill="none"/>
<ellipse cx="1528.5" cy="1203" rx="24" ry="29" transform="rotate(-25 1528.5 1203)" stroke-width="1.3" fill="none"/>
<path d="M 1520.5,1217 C 1530.5,1229 1546.5,1223 1549.5,1208" stroke-width="1.3" fill="none"/>
<ellipse cx="1603.5" cy="1218" rx="24" ry="29" transform="rotate(-25 1603.5 1218)" stroke-width="1.3" fill="none"/>
<path d="M 1595.5,1232 C 1605.5,1244 1621.5,1238 1624.5,1223" stroke-width="1.3" fill="none"/>
<ellipse cx="1663.5" cy="1228" rx="24" ry="29" transform="rotate(-25 1663.5 1228)" stroke-width="1.3" fill="none"/>
<path d="M 1655.5,1242 C 1665.5,1254 1681.5,1248 1684.5,1233" stroke-width="1.3" fill="none"/>
<ellipse cx="1587.0" cy="1292" rx="24" ry="29" transform="rotate(-25 1587.0 1292)" stroke-width="1.3" fill="none"/>
<path d="M 1579.0,1306 C 1589.0,1318 1605.0,1312 1608.0,1297" stroke-width="1.3" fill="none"/>
<ellipse cx="1662.0" cy="1307" rx="24" ry="29" transform="rotate(-25 1662.0 1307)" stroke-width="1.3" fill="none"/>
<path d="M 1654.0,1321 C 1664.0,1333 1680.0,1327 1683.0,1312" stroke-width="1.3" fill="none"/>
<ellipse cx="1722.0" cy="1317" rx="24" ry="29" transform="rotate(-25 1722.0 1317)" stroke-width="1.3" fill="none"/>
<path d="M 1714.0,1331 C 1724.0,1343 1740.0,1337 1743.0,1322" stroke-width="1.3" fill="none"/>
<ellipse cx="1645.5" cy="1381" rx="24" ry="29" transform="rotate(-25 1645.5 1381)" stroke-width="1.3" fill="none"/>
<path d="M 1637.5,1395 C 1647.5,1407 1663.5,1401 1666.5,1386" stroke-width="1.3" fill="none"/>
<ellipse cx="1720.5" cy="1396" rx="24" ry="29" transform="rotate(-25 1720.5 1396)" stroke-width="1.3" fill="none"/>
<path d="M 1712.5,1410 C 1722.5,1422 1738.5,1416 1741.5,1401" stroke-width="1.3" fill="none"/>
<ellipse cx="1780.5" cy="1406" rx="24" ry="29" transform="rotate(-25 1780.5 1406)" stroke-width="1.3" fill="none"/>
<path d="M 1772.5,1420 C 1782.5,1432 1798.5,1426 1801.5,1411" stroke-width="1.3" fill="none"/>
<ellipse cx="1705" cy="1470" rx="24" ry="29" transform="rotate(-25 1705 1470)" stroke-width="1.3" fill="none"/>
<path d="M 1697,1484 C 1707,1496 1723,1490 1726,1475" stroke-width="1.3" fill="none"/>
<path d="M 760,925 L 895,858 L 915,868 L 1165,1330 C 1175,1360 1160,1382 1130,1385 L 1045,1380" stroke-width="2.7" fill="none" />
<path d="M 790,935 L 900,895 L 1110,1330 C 1115,1345 1105,1355 1090,1352 L 1060,1350 C 1040,1345 1030,1330 1020,1315 L 790,935 Z" stroke-width="1.3" fill="none" />
<path d="M 805,945 L 1035,1330" stroke-width="1.3" fill="none" />
<ellipse cx="893.0" cy="985.0" rx="34.0" ry="50.0" transform="rotate(-15 893.0 985.0)" stroke-width="1.3" fill="none"/>
</g>
<g transform="translate(1620 580) scale(0.056936)">
<path d="M 940,235 C 1250,240 1560,600 1640,1000 C 1710,1420 1460,1830 1060,1790 C 640,1750 290,1350 240,950 C 190,550 550,230 940,235 Z" stroke-width="3.4" fill="none" />
<path d="M 1470,1160 L 1190,560 C 1150,470 1060,390 950,400 L 510,590 C 420,640 400,780 440,880 C 490,1000 600,1050 720,1020 L 990,900 C 1070,880 1130,930 1130,1010 C 1130,1070 1100,1100 1060,1120 L 850,1210 C 800,1230 760,1210 750,1175" stroke-width="3.4" fill="none" />
<path d="M 1330,1220 L 1070,600 C 1050,560 1010,540 960,550 L 620,700 C 560,730 550,820 590,870 C 630,910 680,915 730,895 L 960,790 C 1060,750 1160,800 1190,900 C 1220,1000 1200,1120 1120,1180 L 900,1285 C 800,1320 700,1290 640,1225" stroke-width="3.4" fill="none" />
<text x="0" y="0" font-size="175" text-anchor="middle" dominant-baseline="central" transform="translate(790 1588) rotate(25)" style="font-family:Liberation Sans" fill="#231815">S</text>
<text x="0" y="0" font-size="175" text-anchor="middle" dominant-baseline="central" transform="translate(908 1638) rotate(14)" style="font-family:Liberation Sans" fill="#231815">H</text>
<text x="0" y="0" font-size="175" text-anchor="middle" dominant-baseline="central" transform="translate(997 1660) rotate(3)" style="font-family:Liberation Sans" fill="#231815">I</text>
<text x="0" y="0" font-size="175" text-anchor="middle" dominant-baseline="central" transform="translate(1098 1643) rotate(-12)" style="font-family:Liberation Sans" fill="#231815">N</text>
<text x="0" y="0" font-size="175" text-anchor="middle" dominant-baseline="central" transform="translate(1222 1572) rotate(-30)" style="font-family:Liberation Sans" fill="#231815">A</text>
<text x="0" y="0" font-size="175" text-anchor="middle" dominant-baseline="central" transform="translate(1342 1452) rotate(-46)" style="font-family:Liberation Sans" fill="#231815">N</text>
<text x="0" y="0" font-size="175" text-anchor="middle" dominant-baseline="central" transform="translate(1455 1292) rotate(-62)" style="font-family:Liberation Sans" fill="#231815">O</text>
</g>
<g transform="translate(1620 400) scale(0.093168)">
<path d="M 255,565 C 300,510 420,450 520,445 C 580,445 625,465 620,490 C 600,510 590,520 570,510 C 545,520 550,560 580,590 C 640,640 720,650 760,700 C 800,740 830,780 850,830 L 1000,1090 C 990,1140 960,1170 920,1185 C 870,1195 850,1160 860,1140 C 845,1130 840,1110 845,1100 L 650,760 C 630,730 600,725 580,725 L 360,745 C 340,750 335,770 345,780 L 565,1140 C 585,1160 580,1190 560,1205 C 540,1220 500,1225 470,1210 C 440,1200 425,1180 420,1165 L 230,800 C 210,760 210,720 240,690 C 275,660 295,630 300,600 C 280,590 260,580 255,565 Z" stroke-width="2.7" fill="#fff" />
<path d="M 365,760 L 560,1135" stroke-width="1.3" fill="none" />
<path d="M 545,505 C 560,560 600,600 680,640 C 740,670 770,700 800,760 L 975,1085" stroke-width="1.3" fill="none" />
</g>
<g transform="translate(1840 860) scale(0.227743)">
<path d="M 95,190 L 170,310" stroke-width="1.3" fill="none" />
<ellipse cx="176" cy="322" rx="98" ry="78" transform="rotate(-18 176 322)" stroke-width="2.7" fill="#fff"/>
<ellipse cx="176" cy="314" rx="95" ry="72" transform="rotate(-18 176 314)" stroke-width="1.3" fill="none"/>
<ellipse cx="170" cy="312" rx="52" ry="38" transform="rotate(-18 170 312)" stroke-width="1.3" fill="none"/>
<path d="M 420,745 L 455,800" stroke-width="1.3" fill="none" />
<path d="M 388,800 L 600,1205 C 620,1220 690,1225 728,1170 L 520,775 C 490,745 400,760 388,800 Z" stroke-width="2.7" fill="#fff" />
<ellipse cx="452.0" cy="790.0" rx="68" ry="30" transform="rotate(-25 452.0 790.0)" stroke-width="3.2" fill="none"/>
<ellipse cx="463.1" cy="810.8" rx="68" ry="30" transform="rotate(-25 463.1 810.8)" stroke-width="3.2" fill="none"/>
<ellipse cx="474.1" cy="831.6" rx="68" ry="30" transform="rotate(-25 474.1 831.6)" stroke-width="3.2" fill="none"/>
<ellipse cx="485.2" cy="852.4" rx="68" ry="30" transform="rotate(-25 485.2 852.4)" stroke-width="3.2" fill="none"/>
<ellipse cx="496.2" cy="873.2" rx="68" ry="30" transform="rotate(-25 496.2 873.2)" stroke-width="3.2" fill="none"/>
<ellipse cx="507.3" cy="893.9" rx="68" ry="30" transform="rotate(-25 507.3 893.9)" stroke-width="3.2" fill="none"/>
<ellipse cx="518.3" cy="914.7" rx="68" ry="30" transform="rotate(-25 518.3 914.7)" stroke-width="3.2" fill="none"/>
<ellipse cx="529.4" cy="935.5" rx="68" ry="30" transform="rotate(-25 529.4 935.5)" stroke-width="3.2" fill="none"/>
<ellipse cx="540.4" cy="956.3" rx="68" ry="30" transform="rotate(-25 540.4 956.3)" stroke-width="3.2" fill="none"/>
<ellipse cx="551.5" cy="977.1" rx="68" ry="30" transform="rotate(-25 551.5 977.1)" stroke-width="3.2" fill="none"/>
<ellipse cx="562.5" cy="997.9" rx="68" ry="30" transform="rotate(-25 562.5 997.9)" stroke-width="3.2" fill="none"/>
<ellipse cx="573.6" cy="1018.7" rx="68" ry="30" transform="rotate(-25 573.6 1018.7)" stroke-width="3.2" fill="none"/>
<ellipse cx="584.6" cy="1039.5" rx="68" ry="30" transform="rotate(-25 584.6 1039.5)" stroke-width="3.2" fill="none"/>
<ellipse cx="595.7" cy="1060.3" rx="68" ry="30" transform="rotate(-25 595.7 1060.3)" stroke-width="3.2" fill="none"/>
<ellipse cx="606.7" cy="1081.1" rx="68" ry="30" transform="rotate(-25 606.7 1081.1)" stroke-width="3.2" fill="none"/>
<ellipse cx="617.8" cy="1101.8" rx="68" ry="30" transform="rotate(-25 617.8 1101.8)" stroke-width="3.2" fill="none"/>
<ellipse cx="628.8" cy="1122.6" rx="68" ry="30" transform="rotate(-25 628.8 1122.6)" stroke-width="3.2" fill="none"/>
<ellipse cx="639.9" cy="1143.4" rx="68" ry="30" transform="rotate(-25 639.9 1143.4)" stroke-width="3.2" fill="none"/>
<ellipse cx="650.9" cy="1164.2" rx="68" ry="30" transform="rotate(-25 650.9 1164.2)" stroke-width="3.2" fill="none"/>
<ellipse cx="662.0" cy="1185.0" rx="68" ry="30" transform="rotate(-25 662.0 1185.0)" stroke-width="3.2" fill="none"/>
<path d="M 690,1200 L 840,1465" stroke-width="1.3" fill="none" />
<ellipse cx="733" cy="1275" rx="80" ry="55" transform="rotate(-15 733 1275)" stroke-width="2.7" fill="none"/>
<path d="M 890,1530 L 945,1645" stroke-width="1.3" fill="none" />
</g>
<g transform="translate(1880 940) scale(0.05176)">
<path d="M 145,230 C 165,160 290,140 335,175 L 800,1000 L 640,1110 Z" stroke-width="2.7" fill="#231815" />
<line x1="245.0" y1="330.0" x2="700.0" y2="1120.0" stroke-width="0.9" stroke="#fff"/>
<line x1="290.0" y1="310.0" x2="755.0" y2="1100.0" stroke-width="0.9" stroke="#fff"/>
<line x1="335.0" y1="300.0" x2="790.0" y2="1070.0" stroke-width="0.9" stroke="#fff"/>
<ellipse cx="245" cy="215" rx="42" ry="22" transform="rotate(-30 245 215)" fill="#fff" stroke="none"/>
<path d="M 460,1330 C 470,1280 540,1250 600,1200 L 630,1110 C 700,1030 780,1000 870,1010 L 1050,990 C 1100,960 1150,980 1170,1010 L 1300,1260 C 1310,1320 1280,1360 1215,1400 L 1220,1560 C 1180,1660 1080,1720 950,1740 C 870,1740 800,1700 760,1680 C 730,1700 640,1700 600,1680 L 540,1560 C 500,1500 460,1440 460,1330 Z" stroke-width="2.7" fill="#fff" />
<path d="M 640,1200 C 700,1350 900,1420 1080,1330 C 1150,1290 1170,1200 1130,1120" stroke-width="2.7" fill="none" />
<path d="M 560,1340 C 600,1480 800,1560 1000,1510 C 1100,1480 1170,1420 1190,1330" stroke-width="1.3" fill="none" />
<path d="M 600,1310 C 640,1430 820,1500 1000,1460 C 1090,1440 1150,1380 1160,1300" stroke-width="1.3" fill="none" />
<path d="M 650,1160 C 700,1220 800,1230 860,1180 C 880,1140 860,1090 820,1060" stroke-width="2.7" fill="none" />
<path d="M 620,1560 L 700,1540 L 720,1630 L 640,1650 Z M 1170,1220 L 1240,1200 L 1260,1320 L 1200,1340 Z M 930,1530 L 1060,1500 L 1080,1600 L 960,1630 Z" stroke-width="1.3" fill="none" />
<path d="M 1090,1700 L 1110,1760" stroke-width="1.3" fill="none" />
</g>
<g transform="translate(1960 1150) scale(0.051760)">
<path d="M 135,1480 C 150,1350 260,1240 400,1130 L 1150,540 C 1300,430 1500,395 1650,405 C 1800,420 1885,510 1885,630 C 1880,770 1790,880 1650,980 L 520,1640 C 360,1720 210,1720 160,1640 C 140,1600 132,1540 135,1480 Z" stroke-width="2.7" fill="#fff" />
<path d="M 185,1500 C 195,1390 290,1290 420,1190 L 1160,600 C 1310,490 1500,460 1640,465 C 1770,475 1840,545 1840,640 C 1835,760 1760,860 1620,950 L 520,1590 C 380,1660 250,1660 205,1600 C 188,1575 182,1540 185,1500 Z" stroke-width="1.3" fill="none" />
<ellipse cx="1300" cy="850" rx="500" ry="290" transform="rotate(-27 1300 850)" stroke-width="2.2" fill="none"/>
<ellipse cx="1325" cy="880" rx="470" ry="275" transform="rotate(-27 1325 880)" stroke-width="1.8" fill="none"/>
<ellipse cx="640" cy="1000" rx="29" ry="23" stroke-width="2.0" fill="none"/>
<ellipse cx="680" cy="1067" rx="29" ry="23" stroke-width="2.0" fill="none"/>
<ellipse cx="720" cy="1134" rx="29" ry="23" stroke-width="2.0" fill="none"/>
<ellipse cx="760" cy="1201" rx="29" ry="23" stroke-width="2.0" fill="none"/>
<ellipse cx="800" cy="1268" rx="29" ry="23" stroke-width="2.0" fill="none"/>
<ellipse cx="840" cy="1335" rx="29" ry="23" stroke-width="2.0" fill="none"/>
<ellipse cx="880" cy="1402" rx="29" ry="23" stroke-width="2.0" fill="none"/>
<ellipse cx="565" cy="1095" rx="29" ry="23" stroke-width="2.0" fill="none"/>
<ellipse cx="605" cy="1162" rx="29" ry="23" stroke-width="2.0" fill="none"/>
<ellipse cx="645" cy="1229" rx="29" ry="23" stroke-width="2.0" fill="none"/>
<ellipse cx="685" cy="1296" rx="29" ry="23" stroke-width="2.0" fill="none"/>
<ellipse cx="725" cy="1363" rx="29" ry="23" stroke-width="2.0" fill="none"/>
<ellipse cx="765" cy="1430" rx="29" ry="23" stroke-width="2.0" fill="none"/>
<ellipse cx="490" cy="1190" rx="29" ry="23" stroke-width="2.0" fill="none"/>
<ellipse cx="530" cy="1257" rx="29" ry="23" stroke-width="2.0" fill="none"/>
<ellipse cx="570" cy="1324" rx="29" ry="23" stroke-width="2.0" fill="none"/>
<ellipse cx="610" cy="1391" rx="29" ry="23" stroke-width="2.0" fill="none"/>
<ellipse cx="650" cy="1458" rx="29" ry="23" stroke-width="2.0" fill="none"/>
<ellipse cx="405" cy="1275" rx="29" ry="23" stroke-width="2.0" fill="none"/>
<ellipse cx="445" cy="1342" rx="29" ry="23" stroke-width="2.0" fill="none"/>
<ellipse cx="485" cy="1409" rx="29" ry="23" stroke-width="2.0" fill="none"/>
<ellipse cx="525" cy="1476" rx="29" ry="23" stroke-width="2.0" fill="none"/>
<ellipse cx="330" cy="1360" rx="29" ry="23" stroke-width="2.0" fill="none"/>
<ellipse cx="370" cy="1427" rx="29" ry="23" stroke-width="2.0" fill="none"/>
<ellipse cx="410" cy="1494" rx="29" ry="23" stroke-width="2.0" fill="none"/>
</g>
<g transform="translate(2020 1210) scale(0.046584)">
<path d="M 515,1150 C 520,1260 580,1360 660,1410 L 745,1500 L 760,1570 L 1110,1650 L 1560,1370 L 1670,1040 L 1620,990 C 1620,800 1560,700 1440,640 L 1240,300 C 1200,220 1100,180 950,175 C 700,175 480,280 360,450 C 310,530 300,620 330,760 Z" stroke-width="2.7" fill="#fff" />
<ellipse cx="770" cy="490" rx="470" ry="290" transform="rotate(-18 770 490)" stroke-width="2.7" fill="none"/>
<ellipse cx="760" cy="505" rx="290" ry="190" transform="rotate(-18 760 505)" stroke-width="1.8" fill="none"/>
<path d="M 630,730 C 700,600 850,520 1000,515" stroke-width="2.7" fill="none" />
<path d="M 680,710 C 760,610 880,560 980,560" stroke-width="1.3" fill="none" />
<path d="M 360,800 C 560,930 1050,860 1250,500" stroke-width="2.0" fill="none" />
<path d="M 382,855 C 570,985 1070,915 1272,565" stroke-width="2.0" fill="none" />
<path d="M 404,910 C 580,1040 1090,970 1294,630" stroke-width="2.0" fill="none" />
<path d="M 426,965 C 590,1095 1110,1025 1316,695" stroke-width="2.0" fill="none" />
<path d="M 448,1020 C 600,1150 1130,1080 1338,760" stroke-width="2.0" fill="none" />
<path d="M 470,1075 C 610,1205 1150,1135 1360,825" stroke-width="2.0" fill="none" />
<path d="M 492,1130 C 620,1260 1170,1190 1382,890" stroke-width="2.0" fill="none" />
<path d="M 514,1185 C 630,1315 1190,1245 1404,955" stroke-width="2.0" fill="none" />
<path d="M 536,1240 C 640,1370 1210,1300 1426,1020" stroke-width="2.0" fill="none" />
<path d="M 558,1295 C 650,1425 1230,1355 1448,1085" stroke-width="2.0" fill="none" />
<path d="M 580,1350 C 660,1480 1250,1410 1470,1150" stroke-width="2.0" fill="none" />
<path d="M 1030,1490 L 1090,1610 M 1480,1220 L 1550,1360 M 760,1520 L 1090,1610 L 1550,1360 M 1550,1360 L 1620,1010" stroke-width="1.3" fill="none" />
<path d="M 1180,550 L 1430,620" stroke-width="1.3" fill="none" />
</g>
<text x="1916.0" y="590.0" font-size="30" text-anchor="middle" >7</text>
<line x1="1906.0" y1="597.0" x2="1800.0" y2="690.0" stroke-width="1.3" />
<text x="1760.0" y="430.7" font-size="30" text-anchor="middle" >8</text>
<line x1="1753.2" y1="434.9" x2="1698.7" y2="472.2" stroke-width="1.3" />
<text x="1961.0" y="881.6" font-size="30" text-anchor="middle" >6</text>
<line x1="1947.0" y1="883.9" x2="1901.5" y2="920.4" stroke-width="1.3" />
<text x="1989.0" y="944.7" font-size="30" text-anchor="middle" >5</text>
<line x1="1974.4" y1="948.8" x2="1918.6" y2="984.1" stroke-width="1.3" />
<text x="2050.0" y="1032.0" font-size="30" text-anchor="middle" >4</text>
<line x1="2042.7" y1="1033.0" x2="1983.5" y2="1079.8" stroke-width="1.3" />
<text x="2083.0" y="1099.0" font-size="30" text-anchor="middle" >3</text>
<line x1="2071.2" y1="1103.7" x2="2024.5" y2="1137.8" stroke-width="1.3" />
<text x="2118.0" y="1139.0" font-size="30" text-anchor="middle" >2</text>
<line x1="2104.2" y1="1140.0" x2="2058.6" y2="1175.4" stroke-width="1.3" />
<text x="2134.0" y="1197.0" font-size="30" text-anchor="start" >1</text>
<line x1="2132.6" y1="1200.5" x2="2086.0" y2="1238.0" stroke-width="1.3" />
<path d="M 1527.5,851.5 L 1607.5,812.5 L 1607.5,772.5 L 1590,772.5 L 1672.6,734.5" stroke-width="1.3" fill="none" />
<g transform="translate(380 980) scale(0.155280)">
<path d="M 1138,360 C 1140,335 1188,335 1190,360 L 1192,515 C 1180,530 1150,530 1140,520 Z" stroke-width="2.7" fill="#fff" />
<path d="M 1150,355 L 1152,520 M 1180,355 L 1182,520" stroke-width="1.3" fill="none" />
<path d="M 960,600 L 1140,535 C 1300,530 1450,680 1540,880 C 1590,1000 1590,1150 1560,1260 C 1530,1340 1480,1380 1420,1400 L 1240,1450 C 1100,1470 970,1400 870,1270 C 790,1150 760,1000 770,880 C 780,740 860,650 960,600 Z" stroke-width="2.7" fill="#fff" />
<path d="M 960,630 C 1100,640 1250,760 1320,920 C 1380,1070 1370,1230 1300,1320 C 1270,1360 1230,1380 1200,1390" stroke-width="1.3" fill="none" />
<ellipse cx="1075.0" cy="1045.0" rx="201.0" ry="341.0" transform="rotate(-26 1075.0 1045.0)" stroke-width="1.3" fill="none" />
<ellipse cx="1020.0" cy="1065.0" rx="151.0" ry="256.0" transform="rotate(-26 1020.0 1065.0)" stroke-width="2.7" fill="none" />
<ellipse cx="1025.0" cy="1068.0" rx="140.0" ry="240.0" transform="rotate(-26 1025.0 1068.0)" stroke-width="1.3" fill="none" />
<path d="M 990,850 C 1080,880 1170,980 1190,1100 C 1200,1160 1190,1190 1170,1200" stroke-width="1.3" fill="none" />
<path d="M 1030,850 C 1110,900 1180,1000 1185,1120" stroke-width="1.3" fill="none" />
<ellipse cx="1150.0" cy="1000.0" rx="35.0" ry="70.0" transform="rotate(-26 1150.0 1000.0)" stroke-width="1.3" fill="none" />
<path d="M 1165,520 L 1165,600" stroke-width="1.3" fill="none" />
<ellipse cx="1168" cy="615" rx="24" ry="12" stroke-width="1.3" fill="none"/>
<ellipse cx="1098.0" cy="1362.0" rx="14.0" ry="22.0" transform="rotate(-26 1098.0 1362.0)" stroke-width="1.3" fill="none" />
<path d="M 358.5,1074.2 L 348.0,1080.2 L 338.4,1087.6 L 329.5,1096.3 L 321.6,1106.3 L 314.5,1117.6 L 308.5,1130.0 L 303.4,1143.5 L 299.4,1158.0 L 296.5,1173.5 L 294.6,1189.8 L 293.8,1206.8 L 294.1,1224.4 L 295.6,1242.5 L 298.1,1261.0 L 301.7,1279.8 L 306.3,1298.8 L 311.9,1317.8 L 318.6,1336.7 L 326.2,1355.5 L 334.7,1374.0 L 344.0,1392.0 L 354.1,1409.6 L 365.0,1426.5 L 376.5,1442.6 L 388.6,1458.0 L 401.2,1472.4 L 414.2,1485.7 L 427.6,1498.0 L 441.3,1509.1 L 455.2,1519.0 L 469.1,1527.5 L 483.1,1534.7 L 497.0,1540.5 L 510.8,1544.8 L 524.3,1547.7 L 537.5,1549.1 L 550.3,1549.0 L 562.7,1547.4 L 574.4,1544.3 L 585.5,1539.8 L 706.9,1480.6 L 717.3,1474.6 L 727.0,1467.3 L 735.8,1458.5 L 743.8,1448.5 L 750.8,1437.3 L 756.9,1424.8 L 761.9,1411.3 L 765.9,1396.8 L 768.9,1381.3 L 770.7,1365.1 L 771.5,1348.1 L 771.2,1330.5 L 769.8,1312.3 L 767.3,1293.8 L 763.7,1275.0 L 759.0,1256.0 L 753.4,1237.0 L 746.8,1218.1 L 739.2,1199.3 L 730.7,1180.8 L 721.4,1162.8 L 711.2,1145.2 L 700.4,1128.3 L 688.9,1112.2 L 676.8,1096.8 L 664.2,1082.5 L 651.1,1069.1 L 637.7,1056.8 L 624.0,1045.7 L 610.2,1035.8 L 596.2,1027.3 L 582.2,1020.1 L 568.3,1014.3 L 554.5,1010.0 L 541.0,1007.1 L 527.8,1005.7 L 515.0,1005.8 L 502.7,1007.4 L 490.9,1010.5 L 479.8,1015.0 Z" stroke-width="2.7" fill="#fff" />
<ellipse cx="472.0" cy="1307.0" rx="152.8" ry="259.0" transform="rotate(-26 472.0 1307.0)" stroke-width="2.7" fill="none" />
<ellipse cx="472.0" cy="1307.0" rx="143.6" ry="243.5" transform="rotate(-26 472.0 1307.0)" stroke-width="1.3" fill="none" />
<ellipse cx="472.0" cy="1307.0" rx="73.0" ry="124.0" transform="rotate(-26 472.0 1307.0)" stroke-width="1.3" fill="none" />
<ellipse cx="472.0" cy="1307.0" rx="47.0" ry="80.0" transform="rotate(-26 472.0 1307.0)" stroke-width="1.3" fill="none" />
<ellipse cx="558.8" cy="1485.0" rx="22.0" ry="32.0" transform="rotate(-26 558.8 1485.0)" stroke-width="1.3" fill="none" />
<ellipse cx="595.8" cy="1445.1" rx="22.0" ry="32.0" transform="rotate(-26 595.8 1445.1)" stroke-width="1.3" fill="none" />
<ellipse cx="608.3" cy="1377.9" rx="22.0" ry="32.0" transform="rotate(-26 608.3 1377.9)" stroke-width="1.3" fill="none" />
<ellipse cx="593.8" cy="1296.6" rx="22.0" ry="32.0" transform="rotate(-26 593.8 1296.6)" stroke-width="1.3" fill="none" />
<ellipse cx="555.2" cy="1217.4" rx="22.0" ry="32.0" transform="rotate(-26 555.2 1217.4)" stroke-width="1.3" fill="none" />
<ellipse cx="500.1" cy="1155.9" rx="22.0" ry="32.0" transform="rotate(-26 500.1 1155.9)" stroke-width="1.3" fill="none" />
<ellipse cx="439.4" cy="1124.4" rx="22.0" ry="32.0" transform="rotate(-26 439.4 1124.4)" stroke-width="1.3" fill="none" />
<ellipse cx="385.2" cy="1129.0" rx="22.0" ry="32.0" transform="rotate(-26 385.2 1129.0)" stroke-width="1.3" fill="none" />
<ellipse cx="348.2" cy="1168.9" rx="22.0" ry="32.0" transform="rotate(-26 348.2 1168.9)" stroke-width="1.3" fill="none" />
<ellipse cx="335.7" cy="1236.1" rx="22.0" ry="32.0" transform="rotate(-26 335.7 1236.1)" stroke-width="1.3" fill="none" />
<ellipse cx="350.2" cy="1317.4" rx="22.0" ry="32.0" transform="rotate(-26 350.2 1317.4)" stroke-width="1.3" fill="none" />
<ellipse cx="388.8" cy="1396.6" rx="22.0" ry="32.0" transform="rotate(-26 388.8 1396.6)" stroke-width="1.3" fill="none" />
<ellipse cx="443.9" cy="1458.1" rx="22.0" ry="32.0" transform="rotate(-26 443.9 1458.1)" stroke-width="1.3" fill="none" />
<ellipse cx="504.6" cy="1489.6" rx="22.0" ry="32.0" transform="rotate(-26 504.6 1489.6)" stroke-width="1.3" fill="none" />
<path d="M 833.2,1450.0 L 832.4,1450.5 L 831.7,1451.1 L 831.0,1451.7 L 830.3,1452.5 L 829.8,1453.4 L 829.3,1454.4 L 828.9,1455.4 L 828.6,1456.5 L 828.3,1457.7 L 828.2,1459.0 L 828.1,1460.3 L 828.1,1461.7 L 828.2,1463.1 L 828.4,1464.5 L 828.7,1466.0 L 829.0,1467.4 L 829.5,1468.9 L 830.0,1470.4 L 830.6,1471.8 L 831.2,1473.3 L 831.9,1474.7 L 832.7,1476.0 L 833.6,1477.3 L 834.5,1478.6 L 835.4,1479.7 L 836.4,1480.8 L 837.4,1481.9 L 838.4,1482.8 L 839.5,1483.7 L 840.6,1484.4 L 841.7,1485.1 L 842.8,1485.6 L 843.8,1486.1 L 844.9,1486.4 L 846.0,1486.6 L 847.0,1486.7 L 848.0,1486.7 L 849.0,1486.6 L 849.9,1486.3 L 850.8,1486.0 L 965.8,1429.9 L 966.6,1429.4 L 967.4,1428.8 L 968.1,1428.1 L 968.7,1427.4 L 969.3,1426.5 L 969.8,1425.5 L 970.2,1424.5 L 970.5,1423.3 L 970.7,1422.1 L 970.9,1420.9 L 970.9,1419.6 L 970.9,1418.2 L 970.8,1416.8 L 970.6,1415.4 L 970.4,1413.9 L 970.0,1412.4 L 969.6,1411.0 L 969.1,1409.5 L 968.5,1408.1 L 967.8,1406.6 L 967.1,1405.2 L 966.3,1403.9 L 965.5,1402.6 L 964.6,1401.3 L 963.7,1400.1 L 962.7,1399.0 L 961.7,1398.0 L 960.6,1397.1 L 959.6,1396.2 L 958.5,1395.5 L 957.4,1394.8 L 956.3,1394.3 L 955.2,1393.8 L 954.1,1393.5 L 953.1,1393.3 L 952.0,1393.2 L 951.0,1393.2 L 950.1,1393.3 L 949.2,1393.6 L 948.3,1393.9 Z" stroke-width="2.7" fill="#fff" />
<ellipse cx="842.0" cy="1468.0" rx="12.0" ry="20.0" transform="rotate(-26 842.0 1468.0)" stroke-width="1.3" fill="none" />
<path d="M 250,1420 L 470,1320" stroke-width="1.3" fill="none" />
<path d="M 735,1195 L 975,1082" stroke-width="1.3" fill="none" />
<path d="M 1520,830 L 1840,680" stroke-width="1.3" fill="none" />
<path d="M 960,1420 L 1085,1362" stroke-width="1.3" fill="none" />
</g>
<g transform="translate(0 1120) scale(0.238095)">
<path d="M 1262.7,256.2 L 1251.4,262.7 L 1241.0,270.6 L 1231.5,280.1 L 1222.9,290.9 L 1215.3,303.0 L 1208.7,316.4 L 1203.2,331.0 L 1198.9,346.6 L 1195.7,363.3 L 1193.7,380.8 L 1192.8,399.1 L 1193.1,418.1 L 1194.6,437.6 L 1197.3,457.6 L 1201.2,477.9 L 1206.2,498.3 L 1212.2,518.8 L 1219.4,539.2 L 1227.6,559.4 L 1236.7,579.3 L 1246.8,598.8 L 1257.7,617.7 L 1269.3,635.9 L 1281.8,653.3 L 1294.8,669.8 L 1308.4,685.3 L 1322.5,699.7 L 1336.9,712.9 L 1351.7,724.9 L 1366.6,735.5 L 1381.7,744.7 L 1396.8,752.4 L 1411.8,758.6 L 1426.6,763.3 L 1441.2,766.4 L 1455.5,767.8 L 1469.3,767.7 L 1482.6,766.0 L 1495.3,762.7 L 1507.3,757.8 L 1722.1,653.0 L 1733.4,646.5 L 1743.8,638.6 L 1753.4,629.2 L 1762.0,618.4 L 1769.6,606.2 L 1776.1,592.8 L 1781.6,578.2 L 1785.9,562.6 L 1789.1,545.9 L 1791.2,528.4 L 1792.0,510.1 L 1791.7,491.1 L 1790.2,471.6 L 1787.5,451.6 L 1783.6,431.4 L 1778.6,410.9 L 1772.6,390.4 L 1765.4,370.0 L 1757.3,349.8 L 1748.1,329.9 L 1738.1,310.4 L 1727.2,291.6 L 1715.5,273.4 L 1703.1,255.9 L 1690.0,239.4 L 1676.4,223.9 L 1662.4,209.5 L 1647.9,196.3 L 1633.1,184.4 L 1618.2,173.8 L 1603.1,164.6 L 1588.0,156.8 L 1573.0,150.6 L 1558.2,146.0 L 1543.6,142.9 L 1529.3,141.4 L 1515.5,141.5 L 1502.2,143.2 L 1489.5,146.6 L 1477.5,151.5 Z" stroke-width="2.7" fill="#fff" />
<path d="M 1519.8,750.5 L 1529.6,742.9 L 1538.5,733.9 L 1546.7,723.8 L 1554.0,712.4 L 1560.3,699.9 L 1565.7,686.4 L 1570.0,671.8 L 1573.4,656.4 L 1575.7,640.1 L 1577.0,623.1 L 1577.2,605.4 L 1576.3,587.3 L 1574.4,568.6 L 1571.5,549.7 L 1567.5,530.5 L 1562.6,511.1 L 1556.6,491.8 L 1549.7,472.5 L 1542.0,453.5 L 1533.3,434.7 L 1523.8,416.3 L 1513.6,398.4 L 1502.7,381.1 L 1491.1,364.5 L 1478.9,348.7 L 1466.2,333.8 L 1453.1,319.8 L 1439.6,306.8 L 1425.7,295.0 L 1411.7,284.3 L 1397.5,274.8 L 1383.3,266.6 L 1369.0,259.7 L 1354.9,254.2 L 1340.9,250.1 L 1327.2,247.4 L 1313.7,246.1 L 1300.7,246.3 L 1288.1,247.9 L 1276.1,250.9" stroke-width="1.3" fill="none" />
<path d="M 1496.7,713.5 L 1503.6,709.8 L 1502.2,691.5 L 1508.0,687.0 L 1522.5,695.3 L 1528.1,689.4 L 1523.7,670.5 L 1528.2,664.1 L 1542.7,668.7 L 1546.8,660.9 L 1539.6,642.4 L 1542.6,634.3 L 1556.5,635.0 L 1558.9,625.7 L 1549.2,608.2 L 1550.5,598.9 L 1563.2,595.7 L 1563.8,585.1 L 1552.0,569.5 L 1551.7,559.3 L 1562.6,552.3 L 1561.3,541.1 L 1548.0,528.0 L 1545.9,517.4 L 1554.6,506.9 L 1551.5,495.5 L 1537.3,485.5 L 1533.6,474.9 L 1539.7,461.4 L 1535.0,450.2 L 1520.4,443.8 L 1515.3,433.8 L 1518.4,417.8 L 1512.2,407.4 L 1498.0,404.9 L 1491.6,395.7 L 1491.8,378.0 L 1484.4,368.9 L 1471.1,370.3 L 1463.8,362.5 L 1460.9,343.8 L 1452.7,336.3 L 1440.8,341.5 L 1432.9,335.4 L 1427.1,316.6 L 1418.4,311.1 L 1408.6,320.0 L 1400.4,315.8 L 1392.0,297.7 L 1383.1,294.3 L 1375.8,306.5 L 1367.6,304.4 L 1356.9,287.8 L 1348.4,286.8 L 1343.8,301.7 L 1336.1,301.9 L 1323.6,287.4 L 1315.6,288.8 L 1314.0,305.7 L 1307.1,308.1 L 1293.3,296.5 L 1286.4,300.2 L 1287.8,318.5 L 1282.0,323.0 L 1267.5,314.7 L 1261.9,320.6 L 1266.3,339.5 L 1261.8,345.9 L 1247.3,341.3 L 1243.2,349.1 L 1250.4,367.6 L 1247.4,375.7 L 1233.5,375.0 L 1231.1,384.3 L 1240.8,401.8 L 1239.5,411.1 L 1226.8,414.3 L 1226.2,424.9 L 1238.0,440.5 L 1238.3,450.7 L 1227.4,457.7 L 1228.7,468.9 L 1242.0,482.0 L 1244.1,492.6 L 1235.4,503.1 L 1238.5,514.5 L 1252.7,524.5 L 1256.4,535.1 L 1250.3,548.6 L 1255.0,559.8 L 1269.6,566.2 L 1274.7,576.2 L 1271.6,592.2 L 1277.8,602.6 L 1292.0,605.1 L 1298.4,614.3 L 1298.2,632.0 L 1305.6,641.1 L 1318.9,639.7 L 1326.2,647.5 L 1329.1,666.2 L 1337.3,673.7 L 1349.2,668.5 L 1357.1,674.6 L 1362.9,693.4 L 1371.6,698.9 L 1381.4,690.0 L 1389.6,694.2 L 1398.0,712.3 L 1406.9,715.7 L 1414.2,703.5 L 1422.4,705.6 L 1433.1,722.2 L 1441.6,723.2 L 1446.2,708.3 L 1453.9,708.1 L 1466.4,722.6 L 1474.4,721.2 L 1476.0,704.3 L 1482.9,701.9 L 1496.7,713.5 Z" stroke-width="2.7" fill="none" />
<clipPath id="cp24"><ellipse cx="1395" cy="505" rx="140" ry="222" transform="rotate(-26 1395 505)"/></clipPath>
<g clip-path="url(#cp24)">
<line x1="1150" y1="391" x2="1650" y2="171" stroke-width="1.6"/>
<line x1="1150" y1="407" x2="1650" y2="187" stroke-width="1.6"/>
<line x1="1150" y1="423" x2="1650" y2="203" stroke-width="1.6"/>
<line x1="1150" y1="439" x2="1650" y2="219" stroke-width="1.6"/>
<line x1="1150" y1="455" x2="1650" y2="235" stroke-width="1.6"/>
<line x1="1150" y1="471" x2="1650" y2="251" stroke-width="1.6"/>
<line x1="1150" y1="487" x2="1650" y2="267" stroke-width="1.6"/>
<line x1="1150" y1="503" x2="1650" y2="283" stroke-width="1.6"/>
<line x1="1150" y1="519" x2="1650" y2="299" stroke-width="1.6"/>
<line x1="1150" y1="535" x2="1650" y2="315" stroke-width="1.6"/>
<line x1="1150" y1="551" x2="1650" y2="331" stroke-width="1.6"/>
<line x1="1150" y1="567" x2="1650" y2="347" stroke-width="1.6"/>
<line x1="1150" y1="583" x2="1650" y2="363" stroke-width="1.6"/>
<line x1="1150" y1="599" x2="1650" y2="379" stroke-width="1.6"/>
<line x1="1150" y1="615" x2="1650" y2="395" stroke-width="1.6"/>
<line x1="1150" y1="631" x2="1650" y2="411" stroke-width="1.6"/>
<line x1="1150" y1="647" x2="1650" y2="427" stroke-width="1.6"/>
<line x1="1150" y1="663" x2="1650" y2="443" stroke-width="1.6"/>
<line x1="1150" y1="679" x2="1650" y2="459" stroke-width="1.6"/>
<line x1="1150" y1="695" x2="1650" y2="475" stroke-width="1.6"/>
<line x1="1150" y1="711" x2="1650" y2="491" stroke-width="1.6"/>
<line x1="1150" y1="727" x2="1650" y2="507" stroke-width="1.6"/>
<line x1="1150" y1="743" x2="1650" y2="523" stroke-width="1.6"/>
<line x1="1150" y1="759" x2="1650" y2="539" stroke-width="1.6"/>
<line x1="1150" y1="775" x2="1650" y2="555" stroke-width="1.6"/>
<line x1="1150" y1="791" x2="1650" y2="571" stroke-width="1.6"/>
<line x1="1150" y1="807" x2="1650" y2="587" stroke-width="1.6"/>
<line x1="1150" y1="823" x2="1650" y2="603" stroke-width="1.6"/>
<line x1="1150" y1="839" x2="1650" y2="619" stroke-width="1.6"/>
</g>
<path d="M 635.3,793.1 L 632.5,794.7 L 629.9,796.7 L 627.6,799.0 L 625.4,801.7 L 623.5,804.8 L 621.9,808.1 L 620.6,811.7 L 619.5,815.7 L 618.7,819.8 L 618.2,824.2 L 618.0,828.8 L 618.2,833.6 L 618.5,838.5 L 619.2,843.5 L 620.2,848.5 L 621.5,853.7 L 623.0,858.8 L 624.8,863.9 L 626.9,869.0 L 629.1,874.0 L 631.7,878.9 L 634.4,883.6 L 637.3,888.2 L 640.4,892.5 L 643.7,896.7 L 647.1,900.6 L 650.6,904.2 L 654.2,907.5 L 657.9,910.5 L 661.6,913.2 L 665.4,915.5 L 669.2,917.5 L 672.9,919.0 L 676.6,920.2 L 680.2,921.0 L 683.8,921.4 L 687.2,921.4 L 690.5,921.0 L 693.7,920.1 L 696.7,918.9 L 800.0,868.5 L 802.8,866.9 L 805.4,864.9 L 807.8,862.6 L 809.9,859.9 L 811.8,856.8 L 813.4,853.5 L 814.8,849.8 L 815.8,845.9 L 816.6,841.8 L 817.1,837.4 L 817.3,832.8 L 817.2,828.0 L 816.8,823.1 L 816.1,818.1 L 815.1,813.1 L 813.9,807.9 L 812.4,802.8 L 810.6,797.7 L 808.5,792.6 L 806.2,787.6 L 803.7,782.7 L 801.0,778.0 L 798.0,773.4 L 794.9,769.1 L 791.7,764.9 L 788.3,761.0 L 784.7,757.4 L 781.1,754.1 L 777.5,751.1 L 773.7,748.4 L 770.0,746.1 L 766.2,744.1 L 762.5,742.6 L 758.7,741.4 L 755.1,740.6 L 751.6,740.2 L 748.1,740.2 L 744.8,740.6 L 741.7,741.5 L 738.7,742.7 Z" stroke-width="2.7" fill="#231815" />
<line x1="701.6" y1="910.5" x2="802.3" y2="861.4" stroke-width="0.8" stroke="#fff"/>
<line x1="709.0" y1="897.6" x2="809.6" y2="848.5" stroke-width="0.8" stroke="#fff"/>
<line x1="711.4" y1="880.0" x2="812.1" y2="830.9" stroke-width="0.8" stroke="#fff"/>
<line x1="708.7" y1="859.7" x2="809.4" y2="810.6" stroke-width="0.8" stroke="#fff"/>
<line x1="701.1" y1="838.9" x2="801.7" y2="789.8" stroke-width="0.8" stroke="#fff"/>
<line x1="689.4" y1="820.1" x2="790.0" y2="771.0" stroke-width="0.8" stroke="#fff"/>
<line x1="675.0" y1="805.4" x2="775.7" y2="756.3" stroke-width="0.8" stroke="#fff"/>
<line x1="659.6" y1="796.5" x2="760.3" y2="747.4" stroke-width="0.8" stroke="#fff"/>
<line x1="645.0" y1="794.4" x2="745.7" y2="745.3" stroke-width="0.8" stroke="#fff"/>
<path d="M 590,680 L 650,650 C 670,645 675,680 660,690 L 600,715" stroke-width="2.7" fill="#fff" />
<path d="M 750,960 L 815,928 C 835,925 840,955 825,965 L 760,995" stroke-width="2.7" fill="#fff" />
<path d="M 370,800 C 380,740 430,700 500,680 L 530,675 C 600,670 680,720 720,800 C 750,880 750,980 720,1060 C 700,1100 650,1130 590,1135 L 560,1135 C 470,1130 400,1060 375,960 C 365,900 365,850 370,800 Z" stroke-width="2.7" fill="#fff" />
<path d="M 500,690 C 600,700 670,770 695,880 C 715,980 690,1070 610,1122" stroke-width="1.3" fill="none" />
<ellipse cx="445.0" cy="768.0" rx="19.0" ry="32.0" transform="rotate(-26 445.0 768.0)" stroke-width="1.3" fill="none" />
<ellipse cx="622.0" cy="1020.0" rx="19.0" ry="32.0" transform="rotate(-26 622.0 1020.0)" stroke-width="1.3" fill="none" />
<path d="M 290,905 C 300,888 325,880 350,880 L 480,830 C 540,820 585,870 585,950 C 585,1000 565,1040 540,1050 L 420,1100 C 400,1108 380,1108 365,1100 C 350,1090 345,1060 345,1040 Z" stroke-width="2.7" fill="#fff" />
<path d="M 300,900 C 380,880 430,960 420,1060 C 418,1080 410,1095 400,1102" stroke-width="1.3" fill="none" />
<path d="M 480,845 C 540,850 570,900 570,950" stroke-width="1.3" fill="none" />
<path d="M 130.9,1018.1 L 127.5,1020.0 L 124.3,1022.4 L 121.4,1025.2 L 118.8,1028.4 L 116.4,1032.0 L 114.4,1035.9 L 112.6,1040.1 L 111.2,1044.7 L 110.1,1049.6 L 109.4,1054.7 L 109.1,1060.0 L 109.0,1065.5 L 109.4,1071.1 L 110.0,1076.9 L 111.1,1082.7 L 112.4,1088.6 L 114.1,1094.5 L 116.1,1100.4 L 118.4,1106.2 L 121.1,1111.9 L 124.0,1117.5 L 127.1,1122.9 L 130.5,1128.1 L 134.1,1133.1 L 137.9,1137.8 L 141.9,1142.2 L 146.0,1146.3 L 150.3,1150.0 L 154.6,1153.4 L 159.0,1156.3 L 163.5,1158.9 L 168.0,1161.1 L 172.4,1162.8 L 176.8,1164.0 L 181.2,1164.8 L 185.5,1165.2 L 189.6,1165.0 L 193.6,1164.4 L 197.4,1163.4 L 201.1,1161.9 L 394.3,1067.7 L 397.7,1065.7 L 400.9,1063.3 L 403.8,1060.6 L 406.5,1057.4 L 408.8,1053.8 L 410.9,1049.9 L 412.6,1045.6 L 414.0,1041.0 L 415.1,1036.2 L 415.8,1031.1 L 416.2,1025.8 L 416.2,1020.3 L 415.9,1014.6 L 415.2,1008.9 L 414.2,1003.0 L 412.8,997.1 L 411.1,991.2 L 409.1,985.3 L 406.8,979.5 L 404.2,973.8 L 401.3,968.3 L 398.1,962.9 L 394.8,957.7 L 391.1,952.7 L 387.3,948.0 L 383.4,943.6 L 379.2,939.5 L 375.0,935.8 L 370.6,932.4 L 366.2,929.4 L 361.8,926.8 L 357.3,924.7 L 352.8,923.0 L 348.4,921.7 L 344.0,920.9 L 339.8,920.6 L 335.6,920.7 L 331.6,921.3 L 327.8,922.3 L 324.2,923.8 Z" stroke-width="2.7" fill="#fff" />
<path d="M 220.0,1151.3 L 222.6,1148.8 L 224.9,1145.9 L 227.0,1142.8 L 228.9,1139.3 L 230.5,1135.6 L 231.9,1131.7 L 233.0,1127.5 L 233.8,1123.1 L 234.4,1118.5 L 234.7,1113.7 L 234.7,1108.8 L 234.4,1103.8 L 233.8,1098.7 L 233.0,1093.5 L 231.9,1088.3 L 230.5,1083.1 L 228.9,1077.8 L 227.1,1072.6 L 225.0,1067.5 L 222.6,1062.4 L 220.1,1057.4 L 217.3,1052.6 L 214.4,1047.9 L 211.2,1043.4 L 207.9,1039.1 L 204.5,1035.0 L 200.9,1031.2 L 197.2,1027.6 L 193.4,1024.3 L 189.6,1021.3 L 185.6,1018.6 L 181.7,1016.2 L 177.7,1014.1 L 173.7,1012.4 L 169.8,1011.1 L 165.9,1010.1 L 162.0,1009.4 L 158.2,1009.1 L 154.5,1009.2 L 151.0,1009.7" stroke-width="1.2" fill="none" />
<path d="M 231.7,1145.6 L 234.3,1143.1 L 236.6,1140.2 L 238.7,1137.1 L 240.6,1133.6 L 242.2,1129.9 L 243.6,1126.0 L 244.7,1121.8 L 245.5,1117.4 L 246.1,1112.8 L 246.3,1108.0 L 246.3,1103.1 L 246.1,1098.1 L 245.5,1093.0 L 244.7,1087.8 L 243.6,1082.6 L 242.2,1077.4 L 240.6,1072.1 L 238.8,1066.9 L 236.6,1061.8 L 234.3,1056.7 L 231.8,1051.7 L 229.0,1046.9 L 226.0,1042.2 L 222.9,1037.7 L 219.6,1033.4 L 216.2,1029.3 L 212.6,1025.5 L 208.9,1021.9 L 205.1,1018.6 L 201.3,1015.6 L 197.3,1012.9 L 193.4,1010.5 L 189.4,1008.4 L 185.4,1006.7 L 181.5,1005.4 L 177.5,1004.4 L 173.7,1003.7 L 169.9,1003.4 L 166.2,1003.5 L 162.6,1004.0" stroke-width="1.2" fill="none" />
<path d="M 243.4,1139.9 L 246.0,1137.4 L 248.3,1134.5 L 250.4,1131.4 L 252.3,1127.9 L 253.9,1124.2 L 255.3,1120.3 L 256.4,1116.1 L 257.2,1111.7 L 257.7,1107.1 L 258.0,1102.3 L 258.0,1097.4 L 257.7,1092.4 L 257.2,1087.3 L 256.4,1082.1 L 255.3,1076.9 L 253.9,1071.7 L 252.3,1066.4 L 250.4,1061.2 L 248.3,1056.1 L 246.0,1051.0 L 243.4,1046.0 L 240.7,1041.2 L 237.7,1036.5 L 234.6,1032.0 L 231.3,1027.7 L 227.8,1023.6 L 224.3,1019.8 L 220.6,1016.2 L 216.8,1012.9 L 212.9,1009.9 L 209.0,1007.2 L 205.1,1004.8 L 201.1,1002.7 L 197.1,1001.0 L 193.2,999.7 L 189.2,998.7 L 185.4,998.0 L 181.6,997.7 L 177.9,997.8 L 174.3,998.3" stroke-width="1.2" fill="none" />
<path d="M 255.1,1134.2 L 257.6,1131.7 L 260.0,1128.8 L 262.1,1125.7 L 264.0,1122.2 L 265.6,1118.5 L 266.9,1114.6 L 268.0,1110.4 L 268.9,1106.0 L 269.4,1101.4 L 269.7,1096.6 L 269.7,1091.7 L 269.4,1086.7 L 268.9,1081.6 L 268.1,1076.4 L 267.0,1071.2 L 265.6,1066.0 L 264.0,1060.7 L 262.1,1055.5 L 260.0,1050.4 L 257.7,1045.3 L 255.1,1040.3 L 252.4,1035.5 L 249.4,1030.8 L 246.3,1026.3 L 243.0,1022.0 L 239.5,1017.9 L 236.0,1014.1 L 232.3,1010.5 L 228.5,1007.2 L 224.6,1004.2 L 220.7,1001.5 L 216.7,999.1 L 212.8,997.0 L 208.8,995.3 L 204.8,994.0 L 200.9,993.0 L 197.1,992.3 L 193.3,992.0 L 189.6,992.1 L 186.0,992.6" stroke-width="1.2" fill="none" />
<path d="M 266.8,1128.5 L 269.3,1126.0 L 271.7,1123.1 L 273.8,1120.0 L 275.6,1116.5 L 277.3,1112.8 L 278.6,1108.9 L 279.7,1104.7 L 280.6,1100.3 L 281.1,1095.7 L 281.4,1090.9 L 281.4,1086.0 L 281.1,1081.0 L 280.6,1075.9 L 279.7,1070.7 L 278.6,1065.5 L 277.3,1060.3 L 275.7,1055.0 L 273.8,1049.8 L 271.7,1044.7 L 269.4,1039.6 L 266.8,1034.6 L 264.0,1029.8 L 261.1,1025.1 L 258.0,1020.6 L 254.7,1016.3 L 251.2,1012.2 L 247.6,1008.4 L 243.9,1004.8 L 240.2,1001.5 L 236.3,998.5 L 232.4,995.8 L 228.4,993.4 L 224.5,991.4 L 220.5,989.6 L 216.5,988.3 L 212.6,987.3 L 208.7,986.6 L 205.0,986.3 L 201.3,986.4 L 197.7,986.9" stroke-width="1.2" fill="none" />
<path d="M 278.4,1122.8 L 281.0,1120.3 L 283.3,1117.4 L 285.5,1114.3 L 287.3,1110.8 L 288.9,1107.1 L 290.3,1103.2 L 291.4,1099.0 L 292.2,1094.6 L 292.8,1090.0 L 293.1,1085.2 L 293.1,1080.3 L 292.8,1075.3 L 292.2,1070.2 L 291.4,1065.0 L 290.3,1059.8 L 289.0,1054.6 L 287.4,1049.3 L 285.5,1044.1 L 283.4,1039.0 L 281.0,1033.9 L 278.5,1028.9 L 275.7,1024.1 L 272.8,1019.4 L 269.6,1014.9 L 266.3,1010.6 L 262.9,1006.5 L 259.3,1002.7 L 255.6,999.1 L 251.8,995.8 L 248.0,992.8 L 244.1,990.1 L 240.1,987.7 L 236.1,985.7 L 232.2,983.9 L 228.2,982.6 L 224.3,981.6 L 220.4,980.9 L 216.6,980.6 L 212.9,980.7 L 209.4,981.2" stroke-width="1.2" fill="none" />
<path d="M 290.1,1117.1 L 292.7,1114.6 L 295.0,1111.7 L 297.1,1108.6 L 299.0,1105.1 L 300.6,1101.4 L 302.0,1097.5 L 303.1,1093.3 L 303.9,1088.9 L 304.5,1084.3 L 304.8,1079.5 L 304.8,1074.6 L 304.5,1069.6 L 303.9,1064.5 L 303.1,1059.3 L 302.0,1054.1 L 300.7,1048.9 L 299.0,1043.6 L 297.2,1038.4 L 295.1,1033.3 L 292.7,1028.2 L 290.2,1023.2 L 287.4,1018.4 L 284.5,1013.7 L 281.3,1009.2 L 278.0,1004.9 L 274.6,1000.8 L 271.0,997.0 L 267.3,993.4 L 263.5,990.1 L 259.7,987.1 L 255.8,984.4 L 251.8,982.0 L 247.8,980.0 L 243.8,978.2 L 239.9,976.9 L 236.0,975.9 L 232.1,975.2 L 228.3,975.0 L 224.6,975.0 L 221.1,975.5" stroke-width="1.2" fill="none" />
<path d="M 301.8,1111.4 L 304.4,1108.9 L 306.7,1106.0 L 308.8,1102.9 L 310.7,1099.4 L 312.3,1095.7 L 313.7,1091.8 L 314.8,1087.6 L 315.6,1083.2 L 316.2,1078.6 L 316.4,1073.8 L 316.4,1068.9 L 316.2,1063.9 L 315.6,1058.8 L 314.8,1053.6 L 313.7,1048.4 L 312.3,1043.2 L 310.7,1037.9 L 308.9,1032.7 L 306.8,1027.6 L 304.4,1022.5 L 301.9,1017.5 L 299.1,1012.7 L 296.1,1008.0 L 293.0,1003.5 L 289.7,999.2 L 286.3,995.1 L 282.7,991.3 L 279.0,987.7 L 275.2,984.4 L 271.4,981.4 L 267.4,978.7 L 263.5,976.3 L 259.5,974.3 L 255.5,972.5 L 251.6,971.2 L 247.7,970.2 L 243.8,969.5 L 240.0,969.3 L 236.3,969.3 L 232.7,969.8" stroke-width="1.2" fill="none" />
<path d="M 313.5,1105.7 L 316.1,1103.2 L 318.4,1100.3 L 320.5,1097.2 L 322.4,1093.7 L 324.0,1090.0 L 325.4,1086.1 L 326.5,1081.9 L 327.3,1077.5 L 327.8,1072.9 L 328.1,1068.1 L 328.1,1063.2 L 327.9,1058.2 L 327.3,1053.1 L 326.5,1047.9 L 325.4,1042.7 L 324.0,1037.5 L 322.4,1032.2 L 320.5,1027.0 L 318.4,1021.9 L 316.1,1016.8 L 313.5,1011.8 L 310.8,1007.0 L 307.8,1002.3 L 304.7,997.8 L 301.4,993.5 L 297.9,989.4 L 294.4,985.6 L 290.7,982.0 L 286.9,978.7 L 283.0,975.7 L 279.1,973.0 L 275.2,970.6 L 271.2,968.6 L 267.2,966.8 L 263.3,965.5 L 259.3,964.5 L 255.5,963.8 L 251.7,963.6 L 248.0,963.6 L 244.4,964.1" stroke-width="1.2" fill="none" />
<path d="M 325.2,1100.0 L 327.7,1097.5 L 330.1,1094.6 L 332.2,1091.5 L 334.1,1088.0 L 335.7,1084.3 L 337.0,1080.4 L 338.1,1076.2 L 339.0,1071.8 L 339.5,1067.2 L 339.8,1062.4 L 339.8,1057.5 L 339.5,1052.5 L 339.0,1047.4 L 338.2,1042.2 L 337.1,1037.0 L 335.7,1031.8 L 334.1,1026.5 L 332.2,1021.3 L 330.1,1016.2 L 327.8,1011.1 L 325.2,1006.1 L 322.5,1001.3 L 319.5,996.6 L 316.4,992.1 L 313.1,987.8 L 309.6,983.7 L 306.1,979.9 L 302.4,976.3 L 298.6,973.0 L 294.7,970.0 L 290.8,967.3 L 286.9,964.9 L 282.9,962.9 L 278.9,961.1 L 274.9,959.8 L 271.0,958.8 L 267.2,958.1 L 263.4,957.9 L 259.7,957.9 L 256.1,958.4" stroke-width="1.2" fill="none" />
<path d="M 336.9,1094.3 L 339.4,1091.8 L 341.8,1088.9 L 343.9,1085.8 L 345.7,1082.3 L 347.4,1078.6 L 348.7,1074.7 L 349.8,1070.5 L 350.7,1066.1 L 351.2,1061.5 L 351.5,1056.7 L 351.5,1051.8 L 351.2,1046.8 L 350.7,1041.7 L 349.8,1036.5 L 348.8,1031.3 L 347.4,1026.1 L 345.8,1020.8 L 343.9,1015.6 L 341.8,1010.5 L 339.5,1005.4 L 336.9,1000.4 L 334.1,995.6 L 331.2,990.9 L 328.1,986.4 L 324.8,982.1 L 321.3,978.0 L 317.7,974.2 L 314.1,970.6 L 310.3,967.3 L 306.4,964.3 L 302.5,961.6 L 298.5,959.2 L 294.6,957.2 L 290.6,955.4 L 286.6,954.1 L 282.7,953.1 L 278.8,952.4 L 275.1,952.2 L 271.4,952.2 L 267.8,952.7" stroke-width="1.2" fill="none" />
<path d="M 348.6,1088.6 L 351.1,1086.1 L 353.5,1083.2 L 355.6,1080.1 L 357.4,1076.6 L 359.1,1072.9 L 360.4,1069.0 L 361.5,1064.8 L 362.3,1060.4 L 362.9,1055.8 L 363.2,1051.0 L 363.2,1046.1 L 362.9,1041.1 L 362.4,1036.0 L 361.5,1030.8 L 360.4,1025.6 L 359.1,1020.4 L 357.5,1015.1 L 355.6,1009.9 L 353.5,1004.8 L 351.2,999.7 L 348.6,994.7 L 345.8,989.9 L 342.9,985.2 L 339.7,980.7 L 336.4,976.4 L 333.0,972.3 L 329.4,968.5 L 325.7,964.9 L 322.0,961.6 L 318.1,958.6 L 314.2,955.9 L 310.2,953.5 L 306.2,951.5 L 302.3,949.7 L 298.3,948.4 L 294.4,947.4 L 290.5,946.7 L 286.7,946.5 L 283.1,946.5 L 279.5,947.0" stroke-width="1.2" fill="none" />
<path d="M 360.2,1082.9 L 362.8,1080.4 L 365.1,1077.5 L 367.2,1074.4 L 369.1,1070.9 L 370.7,1067.2 L 372.1,1063.3 L 373.2,1059.1 L 374.0,1054.7 L 374.6,1050.1 L 374.9,1045.3 L 374.9,1040.4 L 374.6,1035.4 L 374.0,1030.3 L 373.2,1025.1 L 372.1,1019.9 L 370.8,1014.7 L 369.1,1009.4 L 367.3,1004.2 L 365.2,999.1 L 362.8,994.0 L 360.3,989.0 L 357.5,984.2 L 354.6,979.5 L 351.4,975.0 L 348.1,970.7 L 344.7,966.6 L 341.1,962.8 L 337.4,959.2 L 333.6,955.9 L 329.8,952.9 L 325.9,950.2 L 321.9,947.8 L 317.9,945.8 L 314.0,944.0 L 310.0,942.7 L 306.1,941.7 L 302.2,941.0 L 298.4,940.8 L 294.7,940.8 L 291.2,941.3" stroke-width="1.2" fill="none" />
<path d="M 371.9,1077.2 L 374.5,1074.7 L 376.8,1071.8 L 378.9,1068.7 L 380.8,1065.2 L 382.4,1061.5 L 383.8,1057.6 L 384.9,1053.4 L 385.7,1049.0 L 386.3,1044.4 L 386.5,1039.6 L 386.6,1034.7 L 386.3,1029.7 L 385.7,1024.6 L 384.9,1019.4 L 383.8,1014.2 L 382.4,1009.0 L 380.8,1003.7 L 379.0,998.5 L 376.9,993.4 L 374.5,988.3 L 372.0,983.3 L 369.2,978.5 L 366.2,973.8 L 363.1,969.3 L 359.8,965.0 L 356.4,960.9 L 352.8,957.1 L 349.1,953.5 L 345.3,950.2 L 341.5,947.2 L 337.5,944.5 L 333.6,942.1 L 329.6,940.1 L 325.6,938.3 L 321.7,937.0 L 317.8,936.0 L 313.9,935.3 L 310.1,935.1 L 306.4,935.1 L 302.8,935.6" stroke-width="1.2" fill="none" />
<ellipse cx="166.0" cy="1090.0" rx="50.0" ry="80.0" transform="rotate(-26 166.0 1090.0)" stroke-width="2.7" fill="none" />
<ellipse cx="166.0" cy="1090.0" rx="37.0" ry="60.0" transform="rotate(-26 166.0 1090.0)" stroke-width="1.3" fill="#8a8584" />
<path d="M 963.3,573.9 L 958.5,576.7 L 954.1,580.0 L 950.0,584.0 L 946.4,588.6 L 943.1,593.8 L 940.3,599.4 L 938.0,605.6 L 936.2,612.2 L 934.8,619.3 L 933.9,626.7 L 933.6,634.5 L 933.7,642.5 L 934.3,650.7 L 935.5,659.2 L 937.1,667.8 L 939.2,676.4 L 941.7,685.1 L 944.8,693.7 L 948.2,702.3 L 952.1,710.7 L 956.3,718.9 L 961.0,726.9 L 965.9,734.6 L 971.1,742.0 L 976.7,748.9 L 982.4,755.5 L 988.4,761.6 L 994.5,767.2 L 1000.8,772.2 L 1007.1,776.7 L 1013.5,780.6 L 1019.9,783.8 L 1026.2,786.5 L 1032.5,788.4 L 1038.7,789.7 L 1044.8,790.3 L 1050.6,790.3 L 1056.2,789.6 L 1061.6,788.1 L 1066.7,786.1 L 1186.3,727.8 L 1191.0,725.0 L 1195.5,721.6 L 1199.5,717.7 L 1203.2,713.1 L 1206.4,707.9 L 1209.2,702.3 L 1211.5,696.1 L 1213.4,689.5 L 1214.7,682.4 L 1215.6,675.0 L 1216.0,667.2 L 1215.8,659.2 L 1215.2,650.9 L 1214.1,642.5 L 1212.5,633.9 L 1210.4,625.3 L 1207.8,616.6 L 1204.8,608.0 L 1201.3,599.4 L 1197.5,591.0 L 1193.2,582.8 L 1188.6,574.8 L 1183.6,567.1 L 1178.4,559.7 L 1172.9,552.8 L 1167.1,546.2 L 1161.2,540.1 L 1155.0,534.5 L 1148.8,529.5 L 1142.5,525.0 L 1136.1,521.1 L 1129.7,517.9 L 1123.3,515.2 L 1117.0,513.3 L 1110.8,512.0 L 1104.8,511.3 L 1098.9,511.4 L 1093.3,512.1 L 1087.9,513.6 L 1082.8,515.6 Z" stroke-width="2.7" fill="#fff" />
<line x1="1072.1" y1="780.5" x2="1191.6" y2="722.2" stroke-width="1.5" />
<line x1="1080.9" y1="772.0" x2="1200.4" y2="713.7" stroke-width="1.5" />
<line x1="1087.8" y1="760.7" x2="1207.3" y2="702.4" stroke-width="1.5" />
<line x1="1092.5" y1="747.1" x2="1212.0" y2="688.8" stroke-width="1.5" />
<line x1="1094.9" y1="731.5" x2="1214.4" y2="673.2" stroke-width="1.5" />
<line x1="1094.9" y1="714.3" x2="1214.5" y2="656.0" stroke-width="1.5" />
<line x1="1092.6" y1="696.1" x2="1212.1" y2="637.8" stroke-width="1.5" />
<line x1="1088.0" y1="677.4" x2="1207.5" y2="619.1" stroke-width="1.5" />
<line x1="1081.2" y1="658.8" x2="1200.7" y2="600.5" stroke-width="1.5" />
<line x1="1072.4" y1="640.9" x2="1191.9" y2="582.6" stroke-width="1.5" />
<line x1="1061.9" y1="624.1" x2="1181.5" y2="565.8" stroke-width="1.5" />
<line x1="1050.1" y1="608.9" x2="1169.6" y2="550.6" stroke-width="1.5" />
<line x1="1037.2" y1="595.9" x2="1156.7" y2="537.6" stroke-width="1.5" />
<line x1="1023.6" y1="585.4" x2="1143.2" y2="527.1" stroke-width="1.5" />
<line x1="1009.8" y1="577.6" x2="1129.4" y2="519.3" stroke-width="1.5" />
<line x1="996.2" y1="573.0" x2="1115.7" y2="514.7" stroke-width="1.5" />
<line x1="983.1" y1="571.4" x2="1102.6" y2="513.1" stroke-width="1.5" />
<line x1="970.9" y1="573.1" x2="1090.4" y2="514.8" stroke-width="1.5" />
<path d="M 1066.7,786.1 L 1070.8,783.8 L 1068.8,770.9 L 1072.0,768.1 L 1081.7,774.3 L 1084.8,770.3 L 1080.3,757.3 L 1082.5,753.0 L 1092.2,756.1 L 1094.0,750.6 L 1087.4,738.4 L 1088.4,733.0 L 1097.3,732.7 L 1097.8,726.2 L 1089.5,715.6 L 1089.3,709.4 L 1096.9,705.7 L 1095.9,698.6 L 1086.6,690.3 L 1085.1,683.8 L 1090.9,677.0 L 1088.6,669.7 L 1078.8,664.3 L 1076.2,657.9 L 1079.7,648.4 L 1076.2,641.6 L 1066.7,639.4 L 1063.0,633.5 L 1064.1,622.1 L 1059.7,616.0 L 1051.0,617.2 L 1046.6,612.3 L 1045.2,599.6 L 1040.1,594.8 L 1032.9,599.4 L 1028.1,595.7 L 1024.2,582.7 L 1018.8,579.5 L 1013.5,587.0 L 1008.6,584.9 L 1002.6,572.4 L 997.2,570.9 L 994.3,580.9 L 989.6,580.5 L 981.8,569.4 L 976.9,569.8 L 976.4,581.7 L 972.4,582.9 L 963.3,573.9 L 959.2,576.2 L 961.2,589.1 L 958.0,591.9 L 948.3,585.7 L 945.2,589.7 L 949.7,602.7 L 947.5,607.0 L 937.8,603.9 L 936.0,609.4 L 942.6,621.6 L 941.6,627.0 L 932.7,627.3 L 932.2,633.8 L 940.5,644.4 L 940.7,650.6 L 933.1,654.3 L 934.1,661.4 L 943.4,669.7 L 944.9,676.2 L 939.1,683.0 L 941.4,690.3 L 951.2,695.7 L 953.8,702.1 L 950.3,711.6 L 953.8,718.4 L 963.3,720.6 L 967.0,726.5 L 965.9,737.9 L 970.3,744.0 L 979.0,742.8 L 983.4,747.7 L 984.8,760.4 L 989.9,765.2 L 997.1,760.6 L 1001.9,764.3 L 1005.8,777.3 L 1011.2,780.5 L 1016.5,773.0 L 1021.4,775.1 L 1027.4,787.6 L 1032.8,789.1 L 1035.7,779.1 L 1040.4,779.5 L 1048.2,790.6 L 1053.1,790.2 L 1053.6,778.3 L 1057.6,777.1 L 1066.7,786.1 Z" stroke-width="2.7" fill="#fff" />
<path d="M 1037.8,726.7 L 1040.7,710.2 L 1051.5,703.1 L 1043.2,683.9 L 1043.8,666.0 L 1029.3,655.3 L 1019.2,637.0 L 1007.0,641.2 L 992.2,633.3 L 989.3,649.8 L 978.5,656.9 L 986.8,676.1 L 986.2,694.0 L 1000.7,704.7 L 1010.8,723.0 L 1023.0,718.8 L 1037.8,726.7 Z" stroke-width="1.3" fill="none" />
<path d="M 683.4,571.3 L 680.5,573.0 L 677.8,575.0 L 675.3,577.5 L 673.0,580.3 L 671.0,583.4 L 669.3,586.9 L 667.9,590.7 L 666.7,594.7 L 665.9,599.0 L 665.4,603.6 L 665.1,608.3 L 665.2,613.2 L 665.6,618.3 L 666.2,623.4 L 667.2,628.7 L 668.5,633.9 L 670.1,639.2 L 671.9,644.5 L 674.0,649.7 L 676.4,654.8 L 678.9,659.9 L 681.8,664.7 L 684.8,669.4 L 688.0,673.9 L 691.4,678.2 L 694.9,682.2 L 698.5,685.9 L 702.3,689.3 L 706.1,692.4 L 710.0,695.1 L 713.9,697.5 L 717.8,699.4 L 721.7,701.0 L 725.6,702.2 L 729.4,703.0 L 733.1,703.4 L 736.7,703.3 L 740.1,702.9 L 743.4,702.0 L 746.6,700.7 L 847.2,651.6 L 850.2,649.9 L 852.9,647.9 L 855.4,645.4 L 857.6,642.6 L 859.6,639.5 L 861.3,636.0 L 862.8,632.2 L 863.9,628.2 L 864.8,623.9 L 865.3,619.3 L 865.6,614.6 L 865.5,609.7 L 865.1,604.6 L 864.4,599.5 L 863.4,594.3 L 862.2,589.0 L 860.6,583.7 L 858.8,578.4 L 856.7,573.2 L 854.3,568.1 L 851.7,563.0 L 848.9,558.2 L 845.9,553.5 L 842.7,549.0 L 839.3,544.7 L 835.8,540.7 L 832.1,537.0 L 828.4,533.6 L 824.6,530.5 L 820.7,527.8 L 816.8,525.5 L 812.8,523.5 L 808.9,521.9 L 805.1,520.7 L 801.3,519.9 L 797.6,519.5 L 794.0,519.6 L 790.5,520.0 L 787.2,520.9 L 784.1,522.2 Z" stroke-width="2.7" fill="#231815" />
<line x1="751.6" y1="692.1" x2="848.7" y2="644.8" stroke-width="0.8" stroke="#fff"/>
<line x1="759.2" y1="678.9" x2="856.3" y2="631.6" stroke-width="0.8" stroke="#fff"/>
<line x1="761.7" y1="660.8" x2="858.8" y2="613.5" stroke-width="0.8" stroke="#fff"/>
<line x1="758.8" y1="639.9" x2="855.9" y2="592.5" stroke-width="0.8" stroke="#fff"/>
<line x1="751.0" y1="618.5" x2="848.0" y2="571.1" stroke-width="0.8" stroke="#fff"/>
<line x1="738.9" y1="599.1" x2="836.0" y2="551.7" stroke-width="0.8" stroke="#fff"/>
<line x1="724.2" y1="583.9" x2="821.2" y2="536.6" stroke-width="0.8" stroke="#fff"/>
<line x1="708.4" y1="574.7" x2="805.4" y2="527.4" stroke-width="0.8" stroke="#fff"/>
<line x1="693.3" y1="572.6" x2="790.4" y2="525.2" stroke-width="0.8" stroke="#fff"/>
<path d="M 746.6,700.7 L 750.4,698.5 L 749.2,688.5 L 751.9,685.5 L 759.6,688.2 L 761.9,683.8 L 757.9,673.7 L 759.0,669.0 L 765.9,667.8 L 766.3,661.8 L 760.0,653.2 L 759.5,647.5 L 764.4,642.5 L 762.9,635.9 L 755.3,630.1 L 753.1,624.3 L 755.4,616.3 L 752.2,610.0 L 744.5,607.9 L 741.0,602.9 L 740.3,593.0 L 735.8,588.1 L 729.2,589.9 L 724.9,586.5 L 721.3,576.3 L 716.3,573.5 L 711.7,579.0 L 707.3,577.6 L 701.3,568.7 L 696.5,568.3 L 694.7,576.8 L 690.8,577.6 L 683.4,571.3 L 679.6,573.5 L 680.8,583.5 L 678.1,586.5 L 670.4,583.8 L 668.1,588.2 L 672.1,598.3 L 671.0,603.0 L 664.1,604.2 L 663.7,610.2 L 670.0,618.8 L 670.5,624.5 L 665.6,629.5 L 667.1,636.1 L 674.7,641.9 L 676.9,647.7 L 674.6,655.7 L 677.8,662.0 L 685.5,664.1 L 689.0,669.1 L 689.7,679.0 L 694.2,683.9 L 700.8,682.1 L 705.1,685.5 L 708.7,695.7 L 713.7,698.5 L 718.3,693.0 L 722.7,694.4 L 728.7,703.3 L 733.5,703.7 L 735.3,695.2 L 739.2,694.4 L 746.6,700.7 Z" stroke-width="2.7" fill="#fff" />
<ellipse cx="715.0" cy="636.0" rx="23.0" ry="38.0" transform="rotate(-26 715.0 636.0)" stroke-width="2.7" fill="none" />
<path d="M 848.4,835.3 L 845.5,837.0 L 842.8,839.0 L 840.3,841.5 L 838.0,844.3 L 836.0,847.4 L 834.3,850.9 L 832.9,854.7 L 831.7,858.7 L 830.9,863.0 L 830.4,867.6 L 830.1,872.3 L 830.2,877.2 L 830.6,882.3 L 831.2,887.4 L 832.2,892.7 L 833.5,897.9 L 835.1,903.2 L 836.9,908.5 L 839.0,913.7 L 841.4,918.8 L 843.9,923.9 L 846.8,928.7 L 849.8,933.4 L 853.0,937.9 L 856.4,942.2 L 859.9,946.2 L 863.5,949.9 L 867.3,953.3 L 871.1,956.4 L 875.0,959.1 L 878.9,961.5 L 882.8,963.4 L 886.7,965.0 L 890.6,966.2 L 894.4,967.0 L 898.1,967.4 L 901.7,967.3 L 905.1,966.9 L 908.4,966.0 L 911.6,964.7 L 1016.7,913.4 L 1019.7,911.7 L 1022.4,909.7 L 1024.9,907.2 L 1027.1,904.4 L 1029.1,901.3 L 1030.8,897.8 L 1032.3,894.0 L 1033.4,890.0 L 1034.3,885.7 L 1034.8,881.1 L 1035.0,876.4 L 1035.0,871.5 L 1034.6,866.5 L 1033.9,861.3 L 1032.9,856.1 L 1031.7,850.8 L 1030.1,845.5 L 1028.3,840.2 L 1026.2,835.0 L 1023.8,829.9 L 1021.2,824.8 L 1018.4,820.0 L 1015.4,815.3 L 1012.2,810.8 L 1008.8,806.5 L 1005.3,802.5 L 1001.6,798.8 L 997.9,795.4 L 994.0,792.3 L 990.2,789.6 L 986.3,787.3 L 982.3,785.3 L 978.4,783.7 L 974.6,782.5 L 970.8,781.7 L 967.1,781.3 L 963.5,781.4 L 960.0,781.8 L 956.7,782.7 L 953.6,784.0 Z" stroke-width="2.7" fill="#231815" />
<line x1="916.6" y1="956.1" x2="1018.2" y2="906.6" stroke-width="0.8" stroke="#fff"/>
<line x1="924.2" y1="942.9" x2="1025.8" y2="893.4" stroke-width="0.8" stroke="#fff"/>
<line x1="926.7" y1="924.8" x2="1028.3" y2="875.3" stroke-width="0.8" stroke="#fff"/>
<line x1="923.8" y1="903.9" x2="1025.4" y2="854.3" stroke-width="0.8" stroke="#fff"/>
<line x1="916.0" y1="882.5" x2="1017.5" y2="832.9" stroke-width="0.8" stroke="#fff"/>
<line x1="903.9" y1="863.1" x2="1005.5" y2="813.5" stroke-width="0.8" stroke="#fff"/>
<line x1="889.2" y1="847.9" x2="990.7" y2="798.4" stroke-width="0.8" stroke="#fff"/>
<line x1="873.4" y1="838.7" x2="974.9" y2="789.2" stroke-width="0.8" stroke="#fff"/>
<line x1="858.3" y1="836.6" x2="959.9" y2="787.0" stroke-width="0.8" stroke="#fff"/>
<path d="M 911.6,964.7 L 915.4,962.5 L 914.2,952.5 L 916.9,949.5 L 924.6,952.2 L 926.9,947.8 L 922.9,937.7 L 924.0,933.0 L 930.9,931.8 L 931.3,925.8 L 925.0,917.2 L 924.5,911.5 L 929.4,906.5 L 927.9,899.9 L 920.3,894.1 L 918.1,888.3 L 920.4,880.3 L 917.2,874.0 L 909.5,871.9 L 906.0,866.9 L 905.3,857.0 L 900.8,852.1 L 894.2,853.9 L 889.9,850.5 L 886.3,840.3 L 881.3,837.5 L 876.7,843.0 L 872.3,841.6 L 866.3,832.7 L 861.5,832.3 L 859.7,840.8 L 855.8,841.6 L 848.4,835.3 L 844.6,837.5 L 845.8,847.5 L 843.1,850.5 L 835.4,847.8 L 833.1,852.2 L 837.1,862.3 L 836.0,867.0 L 829.1,868.2 L 828.7,874.2 L 835.0,882.8 L 835.5,888.5 L 830.6,893.5 L 832.1,900.1 L 839.7,905.9 L 841.9,911.7 L 839.6,919.7 L 842.8,926.0 L 850.5,928.1 L 854.0,933.1 L 854.7,943.0 L 859.2,947.9 L 865.8,946.1 L 870.1,949.5 L 873.7,959.7 L 878.7,962.5 L 883.3,957.0 L 887.7,958.4 L 893.7,967.3 L 898.5,967.7 L 900.3,959.2 L 904.2,958.4 L 911.6,964.7 Z" stroke-width="2.7" fill="#fff" />
<ellipse cx="880.0" cy="900.0" rx="23.0" ry="38.0" transform="rotate(-26 880.0 900.0)" stroke-width="2.7" fill="none" />
<path d="M 110,1108 L 130,1100" stroke-width="1.3" fill="none" />
<path d="M 800,780 L 960,715" stroke-width="1.3" fill="none" />
<path d="M 1210,600 L 1250,582" stroke-width="1.3" fill="none" />
<path d="M 1760,340 L 1932,262" stroke-width="1.3" fill="none" />
</g>
<line x1="1.5" y1="1089.0" x2="1.5" y2="1172.0" stroke-width="1.3" />
<line x1="1.5" y1="1181.0" x2="1.5" y2="1189.0" stroke-width="1.3" />
<path d="M 1.5,1198 L 1.5,1390.7 L 5.6,1388.6" stroke-width="1.3" fill="none" />
<line x1="11.2" y1="1385.6" x2="26.0" y2="1378.6" stroke-width="1.3" />
<text x="483.7" y="1017.3" font-size="30" text-anchor="middle" >22</text>
<line x1="494.9" y1="1021.1" x2="529.0" y2="1073.2" stroke-width="1.3" />
<text x="602.5" y="995.0" font-size="30" text-anchor="middle" >21</text>
<line x1="598.9" y1="998.6" x2="564.8" y2="1043.7" stroke-width="1.3" />
<text x="403.7" y="1087.0" font-size="29" text-anchor="middle" >15</text>
<rect x="384.7" y="1062.0" width="38" height="31" fill="none" stroke-width="1.1"/>
<line x1="412.6" y1="1094.1" x2="442.1" y2="1145.4" stroke-width="1.3" />
<text x="574.0" y="1277.4" font-size="30" text-anchor="middle" >23</text>
<line x1="560.1" y1="1254.0" x2="522.9" y2="1205.9" stroke-width="1.3" />
<text x="283.5" y="1107.5" font-size="30" text-anchor="middle" >24</text>
<line x1="295.0" y1="1112.5" x2="323.0" y2="1171.0" stroke-width="1.3" />
<text x="117.0" y="1178.0" font-size="30" text-anchor="middle" >26</text>
<line x1="128.6" y1="1183.1" x2="175.0" y2="1249.8" stroke-width="1.3" />
<line x1="128.6" y1="1183.1" x2="165.0" y2="1295.0" stroke-width="1.3" />
<line x1="128.6" y1="1183.1" x2="221.0" y2="1308.0" stroke-width="1.3" />
<text x="327.0" y="1394.0" font-size="30" text-anchor="middle" >25</text>
<line x1="273.8" y1="1304.5" x2="311.9" y2="1367.6" stroke-width="1.3" />
<text x="150.6" y="1478.0" font-size="30" text-anchor="middle" >27</text>
<line x1="98.8" y1="1383.1" x2="139.3" y2="1453.3" stroke-width="1.3" />
<g transform="translate(620 1480) scale(0.165631)">
<ellipse cx="920" cy="1380" rx="810" ry="525" stroke-width="2.7" fill="#fff"/>
<path d="M 330,1045 C 200,1130 140,1250 138,1380 A 782 492 0 0 0 1702,1380 C 1700,1250 1620,1120 1480,1030" stroke-width="1.3" fill="none" />
<path d="M 268,1237 A 652 408 0 0 0 1572,1237" stroke-width="1.3" fill="none" />
<path d="M 288,1225 A 632 380 0 0 0 1552,1225" stroke-width="1.3" fill="none" />
<path d="M 340,1040 C 310,1090 302,1150 305,1205 A 615 360 0 0 0 1535,1205 C 1535,1140 1510,1070 1470,1012" stroke-width="2.7" fill="none" />
<ellipse cx="920" cy="1110" rx="195" ry="95" stroke-width="1.3" fill="none"/>
<path d="M 725,1110 L 728,1140 C 760,1200 1080,1200 1112,1140 L 1115,1110" stroke-width="1.3" fill="none" />
<path d="M 840,955 L 840,1115 C 860,1150 980,1150 1000,1115 L 1000,955" stroke-width="2.7" fill="#fff" />
<path d="M 842,990 C 870,1012 970,1012 998,990" stroke-width="1.3" fill="none" />
<path d="M 842,1015 C 870,1037 970,1037 998,1015" stroke-width="1.3" fill="none" />
<path d="M 842,1040 C 870,1062 970,1062 998,1040" stroke-width="1.3" fill="none" />
<path d="M 842,1065 C 870,1087 970,1087 998,1065" stroke-width="1.3" fill="none" />
<path d="M 842,1090 C 870,1112 970,1112 998,1090" stroke-width="1.3" fill="none" />
<path d="M 842,1115 C 870,1137 970,1137 998,1115" stroke-width="1.3" fill="none" />
<ellipse cx="920" cy="955" rx="80" ry="33" stroke-width="2.7" fill="#fff"/>
</g>
<text x="884.0" y="1510.6" font-size="30" text-anchor="middle" >31</text>
<line x1="881.7" y1="1519.8" x2="809.6" y2="1639.0" stroke-width="1.3" />
<g transform="translate(1010 1470) scale(0.310559)">
<path d="M 57,690 A 390 213 0 0 1 837,690 L 837,840 A 390 213 0 0 1 57,840 Z" stroke-width="2.7" fill="#fff" />
<path d="M 57,690 A 390 213 0 0 0 837,690" stroke-width="1.3" fill="none" />
<ellipse cx="445" cy="690" rx="315" ry="175" stroke-width="2.7" fill="none"/>
<path d="M 130,695 C 135,800 280,860 445,862 C 610,860 755,800 760,695" stroke-width="2.7" fill="none" />
<ellipse cx="447" cy="670" rx="55" ry="30" stroke-width="1.3" fill="none"/>
<g>
<path d="M 1034.0,795.1 L 1034.0,842.9 Q 1038.5,851.9 1043.0,842.9 L 1043.0,795.1" stroke-width="0.9" fill="none"/>
<path d="M 1048.0,831.2 L 1048.0,893.1 Q 1052.5,902.1 1057.0,893.1 L 1057.0,831.2" stroke-width="0.9" fill="none"/>
<path d="M 1062.0,851.3 L 1062.0,915.3 Q 1066.5,924.3 1071.0,915.3 L 1071.0,851.3" stroke-width="0.9" fill="none"/>
<path d="M 1076.0,866.6 L 1076.0,934.1 Q 1080.5,943.1 1085.0,934.1 L 1085.0,866.6" stroke-width="0.9" fill="none"/>
<path d="M 1090.0,879.2 L 1090.0,948.0 Q 1094.5,957.0 1099.0,948.0 L 1099.0,879.2" stroke-width="0.9" fill="none"/>
<path d="M 1104.0,890.0 L 1104.0,955.1 Q 1108.5,964.1 1113.0,955.1 L 1113.0,890.0" stroke-width="0.9" fill="none"/>
<path d="M 1118.0,899.5 L 1118.0,964.8 Q 1122.5,973.8 1127.0,964.8 L 1127.0,899.5" stroke-width="0.9" fill="none"/>
<path d="M 1132.0,907.9 L 1132.0,980.3 Q 1136.5,989.3 1141.0,980.3 L 1141.0,907.9" stroke-width="0.9" fill="none"/>
<path d="M 1146.0,915.5 L 1146.0,983.7 Q 1150.5,992.7 1155.0,983.7 L 1155.0,915.5" stroke-width="0.9" fill="none"/>
<path d="M 1160.0,922.4 L 1160.0,990.8 Q 1164.5,999.8 1169.0,990.8 L 1169.0,922.4" stroke-width="0.9" fill="none"/>
<path d="M 1174.0,928.6 L 1174.0,1003.4 Q 1178.5,1012.4 1183.0,1003.4 L 1183.0,928.6" stroke-width="0.9" fill="none"/>
<path d="M 1188.0,934.3 L 1188.0,1005.2 Q 1192.5,1014.2 1197.0,1005.2 L 1197.0,934.3" stroke-width="0.9" fill="none"/>
<path d="M 1202.0,939.5 L 1202.0,1013.6 Q 1206.5,1022.6 1211.0,1013.6 L 1211.0,939.5" stroke-width="0.9" fill="none"/>
<path d="M 1216.0,944.3 L 1216.0,1015.7 Q 1220.5,1024.7 1225.0,1015.7 L 1225.0,944.3" stroke-width="0.9" fill="none"/>
<path d="M 1230.0,948.6 L 1230.0,1021.5 Q 1234.5,1030.5 1239.0,1021.5 L 1239.0,948.6" stroke-width="0.9" fill="none"/>
<path d="M 1244.0,952.6 L 1244.0,1021.8 Q 1248.5,1030.8 1253.0,1021.8 L 1253.0,952.6" stroke-width="0.9" fill="none"/>
<path d="M 1258.0,956.2 L 1258.0,1029.4 Q 1262.5,1038.4 1267.0,1029.4 L 1267.0,956.2" stroke-width="0.9" fill="none"/>
<path d="M 1272.0,959.5 L 1272.0,1034.7 Q 1276.5,1043.7 1281.0,1034.7 L 1281.0,959.5" stroke-width="0.9" fill="none"/>
<path d="M 1286.0,962.4 L 1286.0,1035.0 Q 1290.5,1044.0 1295.0,1035.0 L 1295.0,962.4" stroke-width="0.9" fill="none"/>
<path d="M 1300.0,965.1 L 1300.0,1039.5 Q 1304.5,1048.5 1309.0,1039.5 L 1309.0,965.1" stroke-width="0.9" fill="none"/>
<path d="M 1314.0,967.5 L 1314.0,1041.4 Q 1318.5,1050.4 1323.0,1041.4 L 1323.0,967.5" stroke-width="0.9" fill="none"/>
<path d="M 1328.0,969.5 L 1328.0,1038.8 Q 1332.5,1047.8 1337.0,1038.8 L 1337.0,969.5" stroke-width="0.9" fill="none"/>
<path d="M 1342.0,971.4 L 1342.0,1046.2 Q 1346.5,1055.2 1351.0,1046.2 L 1351.0,971.4" stroke-width="0.9" fill="none"/>
<path d="M 1356.0,972.9 L 1356.0,1046.5 Q 1360.5,1055.5 1365.0,1046.5 L 1365.0,972.9" stroke-width="0.9" fill="none"/>
<path d="M 1370.0,974.2 L 1370.0,1045.5 Q 1374.5,1054.5 1379.0,1045.5 L 1379.0,974.2" stroke-width="0.9" fill="none"/>
<path d="M 1384.0,975.3 L 1384.0,1044.4 Q 1388.5,1053.4 1393.0,1044.4 L 1393.0,975.3" stroke-width="0.9" fill="none"/>
<path d="M 1398.0,976.1 L 1398.0,1051.9 Q 1402.5,1060.9 1407.0,1051.9 L 1407.0,976.1" stroke-width="0.9" fill="none"/>
<path d="M 1412.0,976.6 L 1412.0,1049.4 Q 1416.5,1058.4 1421.0,1049.4 L 1421.0,976.6" stroke-width="0.9" fill="none"/>
<path d="M 1426.0,976.9 L 1426.0,1051.7 Q 1430.5,1060.7 1435.0,1051.7 L 1435.0,976.9" stroke-width="0.9" fill="none"/>
<path d="M 1440.0,977.0 L 1440.0,1053.0 Q 1444.5,1062.0 1449.0,1053.0 L 1449.0,977.0" stroke-width="0.9" fill="none"/>
<path d="M 1454.0,976.8 L 1454.0,1051.5 Q 1458.5,1060.5 1463.0,1051.5 L 1463.0,976.8" stroke-width="0.9" fill="none"/>
<path d="M 1468.0,976.4 L 1468.0,1052.8 Q 1472.5,1061.8 1477.0,1052.8 L 1477.0,976.4" stroke-width="0.9" fill="none"/>
<path d="M 1482.0,975.7 L 1482.0,1047.9 Q 1486.5,1056.9 1491.0,1047.9 L 1491.0,975.7" stroke-width="0.9" fill="none"/>
<path d="M 1496.0,974.8 L 1496.0,1050.2 Q 1500.5,1059.2 1505.0,1050.2 L 1505.0,974.8" stroke-width="0.9" fill="none"/>
<path d="M 1510.0,973.7 L 1510.0,1046.1 Q 1514.5,1055.1 1519.0,1046.1 L 1519.0,973.7" stroke-width="0.9" fill="none"/>
<path d="M 1524.0,972.3 L 1524.0,1048.6 Q 1528.5,1057.6 1533.0,1048.6 L 1533.0,972.3" stroke-width="0.9" fill="none"/>
<path d="M 1538.0,970.6 L 1538.0,1046.4 Q 1542.5,1055.4 1547.0,1046.4 L 1547.0,970.6" stroke-width="0.9" fill="none"/>
<path d="M 1552.0,968.7 L 1552.0,1038.1 Q 1556.5,1047.1 1561.0,1038.1 L 1561.0,968.7" stroke-width="0.9" fill="none"/>
<path d="M 1566.0,966.5 L 1566.0,1036.1 Q 1570.5,1045.1 1575.0,1036.1 L 1575.0,966.5" stroke-width="0.9" fill="none"/>
<path d="M 1580.0,964.0 L 1580.0,1034.2 Q 1584.5,1043.2 1589.0,1034.2 L 1589.0,964.0" stroke-width="0.9" fill="none"/>
<path d="M 1594.0,961.2 L 1594.0,1037.3 Q 1598.5,1046.3 1603.0,1037.3 L 1603.0,961.2" stroke-width="0.9" fill="none"/>
<path d="M 1608.0,958.1 L 1608.0,1029.8 Q 1612.5,1038.8 1617.0,1029.8 L 1617.0,958.1" stroke-width="0.9" fill="none"/>
<path d="M 1622.0,954.7 L 1622.0,1027.8 Q 1626.5,1036.8 1631.0,1027.8 L 1631.0,954.7" stroke-width="0.9" fill="none"/>
<path d="M 1636.0,950.9 L 1636.0,1021.2 Q 1640.5,1030.2 1645.0,1021.2 L 1645.0,950.9" stroke-width="0.9" fill="none"/>
<path d="M 1650.0,946.8 L 1650.0,1018.6 Q 1654.5,1027.6 1659.0,1018.6 L 1659.0,946.8" stroke-width="0.9" fill="none"/>
<path d="M 1664.0,942.3 L 1664.0,1012.9 Q 1668.5,1021.9 1673.0,1012.9 L 1673.0,942.3" stroke-width="0.9" fill="none"/>
<path d="M 1678.0,937.3 L 1678.0,1007.4 Q 1682.5,1016.4 1687.0,1007.4 L 1687.0,937.3" stroke-width="0.9" fill="none"/>
<path d="M 1692.0,931.9 L 1692.0,1003.6 Q 1696.5,1012.6 1701.0,1003.6 L 1701.0,931.9" stroke-width="0.9" fill="none"/>
<path d="M 1706.0,926.0 L 1706.0,997.4 Q 1710.5,1006.4 1715.0,997.4 L 1715.0,926.0" stroke-width="0.9" fill="none"/>
<path d="M 1720.0,919.5 L 1720.0,993.1 Q 1724.5,1002.1 1729.0,993.1 L 1729.0,919.5" stroke-width="0.9" fill="none"/>
<path d="M 1734.0,912.3 L 1734.0,983.8 Q 1738.5,992.8 1743.0,983.8 L 1743.0,912.3" stroke-width="0.9" fill="none"/>
<path d="M 1748.0,904.4 L 1748.0,977.4 Q 1752.5,986.4 1757.0,977.4 L 1757.0,904.4" stroke-width="0.9" fill="none"/>
<path d="M 1762.0,895.5 L 1762.0,967.4 Q 1766.5,976.4 1771.0,967.4 L 1771.0,895.5" stroke-width="0.9" fill="none"/>
<path d="M 1776.0,885.5 L 1776.0,957.7 Q 1780.5,966.7 1785.0,957.7 L 1785.0,885.5" stroke-width="0.9" fill="none"/>
<path d="M 1790.0,874.0 L 1790.0,942.8 Q 1794.5,951.8 1799.0,942.8 L 1799.0,874.0" stroke-width="0.9" fill="none"/>
<path d="M 1804.0,860.4 L 1804.0,923.8 Q 1808.5,932.8 1813.0,923.8 L 1813.0,860.4" stroke-width="0.9" fill="none"/>
<path d="M 1818.0,843.5 L 1818.0,910.3 Q 1822.5,919.3 1827.0,910.3 L 1827.0,843.5" stroke-width="0.9" fill="none"/>
<path d="M 1832.0,819.6 L 1832.0,881.0 Q 1836.5,890.0 1841.0,881.0 L 1841.0,819.6" stroke-width="0.9" fill="none"/>
</g>
<path d="M 1030,735 A 407 200 0 0 1 1844,735 L 1844,790 A 407 202 0 0 1 1030,790 Z" stroke-width="2.7" fill="#fff" />
<path d="M 1032,745 A 405 203 0 0 0 1842,745" stroke-width="1.3" fill="none" />
<path d="M 1032,775 A 405 202 0 0 0 1842,775" stroke-width="2.7" fill="none" />
<ellipse cx="1437" cy="672" rx="340" ry="195" stroke-width="2.7" fill="#fff"/>
<path d="M 1098,680 C 1105,800 1260,872 1437,874 C 1614,872 1770,800 1778,680" stroke-width="2.7" fill="none" />
<ellipse cx="1437" cy="665" rx="57" ry="32" stroke-width="1.3" fill="none"/>
</g>
<text x="1242.0" y="1498.0" font-size="30" text-anchor="middle" >32</text>
<line x1="1235.8" y1="1507.9" x2="1182.4" y2="1620.0" stroke-width="1.3" />
<text x="1526.0" y="1501.0" font-size="30" text-anchor="middle" >33</text>
<line x1="1524.0" y1="1506.6" x2="1475.8" y2="1616.6" stroke-width="1.3" />
<g transform="translate(1660 1540) scale(0.175983)">
<path d="M 180,1020 L 1405,215 L 1490,210 L 1530,240 L 1528,275 C 1460,300 1425,340 1440,375 C 1470,425 1540,430 1600,428 C 1660,425 1710,395 1738,365 L 1775,385 L 1772,460 L 1765,485 L 475,1245 L 380,1265 L 340,1245 L 345,1205 C 400,1175 455,1140 450,1105 C 440,1060 390,1035 330,1035 C 270,1038 220,1065 190,1090 L 185,1145 L 155,1125 L 160,1060 Z" stroke-width="2.2" fill="#fff" />
<path d="M 1772,455 L 472,1212 L 380,1225 L 345,1205 M 472,1212 L 475,1245 M 380,1225 L 380,1265" stroke-width="1.3" fill="none" />
<path d="M 1528,245 C 1480,265 1440,300 1435,340 M 165,1095 L 190,1090 M 185,1110 L 185,1145" stroke-width="1.3" fill="none" />
<ellipse cx="617" cy="935" rx="52" ry="35" stroke-width="1.3" fill="none"/>
<path d="M 580,955 C 600,975 640,975 660,955" stroke-width="1.3" fill="none" />
</g>
<text x="1978.0" y="1750.0" font-size="30" text-anchor="middle" >34</text>
<line x1="1959.2" y1="1733.6" x2="1887.0" y2="1676.4" stroke-width="1.3" />
</svg></body></html>
